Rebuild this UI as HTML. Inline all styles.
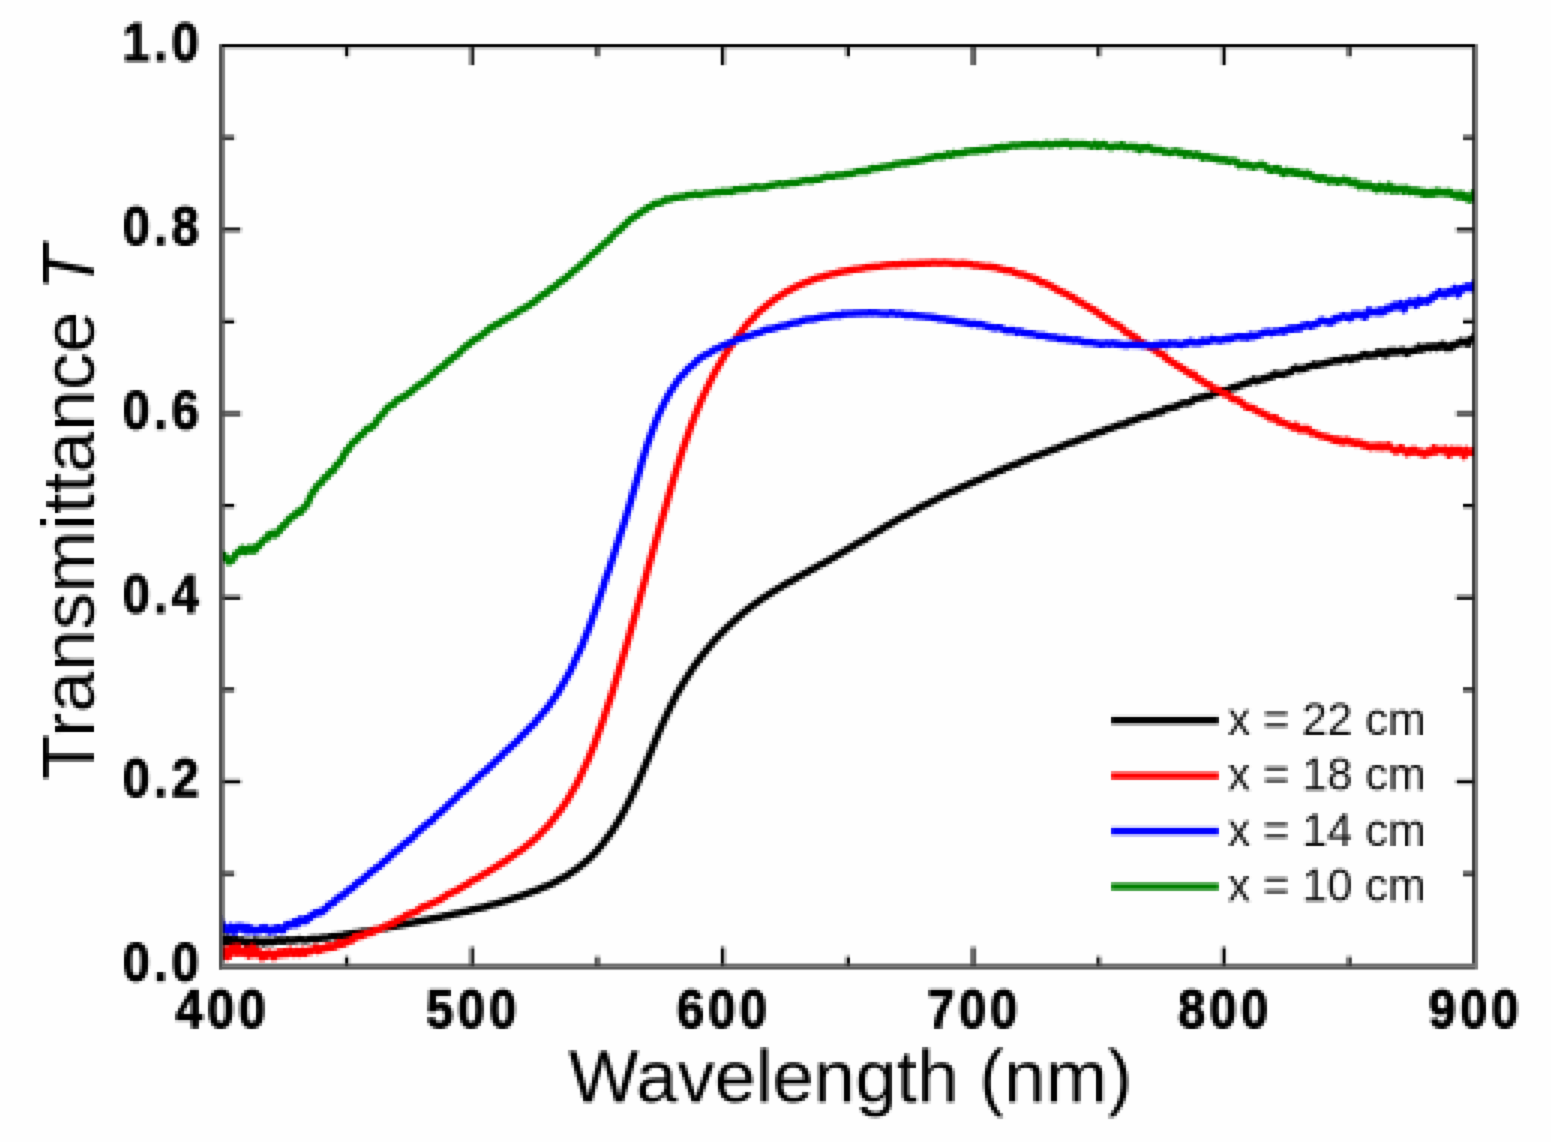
<!DOCTYPE html>
<html lang="en"><head><meta charset="utf-8"><title>Transmittance vs wavelength</title>
<style>
html,body{margin:0;padding:0;background:#fff;}
body{width:1551px;height:1142px;overflow:hidden;}
svg{display:block;}
text{font-family:"Liberation Sans",Arial,Helvetica,sans-serif;fill:#000;}
.tk{font-weight:bold;font-size:55.6px;stroke:#000;stroke-width:1.1px;stroke-linejoin:round;}
.ax{font-size:74.4px;}
.lg{font-size:45.4px;fill:#111;}
</style></head><body>
<svg width="1551" height="1142" viewBox="0 0 1551 1142">
<defs>
<clipPath id="clip"><rect x="222" y="47" width="1253" height="922"/></clipPath>
<filter id="px" filterUnits="userSpaceOnUse" x="0" y="-3" width="1551" height="1148" color-interpolation-filters="sRGB">
<feConvolveMatrix in="SourceGraphic" order="3" kernelMatrix="1 1 1 1 1 1 1 1 1" edgeMode="duplicate" preserveAlpha="true" result="avg"/>
<feFlood x="2" y="-2" width="1" height="1" flood-color="#000" result="dot"/>
<feComposite in="dot" in2="dot" operator="over" x="1" y="-3" width="3" height="3" result="cell"/>
<feTile in="cell" result="grid"/>
<feComposite in="avg" in2="grid" operator="in" result="smp"/>
<feMorphology in="smp" operator="dilate" radius="1"/>
</filter>
<filter id="soft" filterUnits="userSpaceOnUse" x="0" y="0" width="1551" height="1142" color-interpolation-filters="sRGB">
<feConvolveMatrix order="3" kernelMatrix="1 5 1 5 25 5 1 5 1" edgeMode="duplicate" preserveAlpha="true"/>
</filter>
</defs>
<rect x="0" y="0" width="1551" height="1142" fill="#fefefe"/>
<g filter="url(#soft)">
<rect x="-6" y="-6" width="1563" height="1154" fill="#fefefe"/>
<g filter="url(#px)">
<rect x="-6" y="-6" width="1563" height="1154" fill="#fefefe"/>
<g clip-path="url(#clip)" fill="none" stroke-linejoin="round" stroke-linecap="butt" stroke-width="7.2">
<path stroke="#000000" d="M219.0,942.3 L220.0,940.5 L221.0,940.4 L222.0,942.2 L223.0,941.0 L224.0,938.2 L225.0,940.2 L226.0,941.9 L227.0,938.0 L228.0,942.0 L229.0,939.1 L230.0,939.3 L231.0,939.7 L232.0,939.0 L233.0,942.4 L234.0,942.2 L235.0,940.7 L236.0,940.9 L237.0,939.5 L238.0,941.1 L239.0,942.7 L240.0,940.6 L241.0,940.7 L242.0,940.2 L243.0,940.0 L244.0,941.7 L245.0,941.6 L246.0,942.7 L247.0,943.0 L248.0,941.8 L249.0,941.2 L250.0,942.6 L251.0,943.3 L252.0,942.6 L253.0,942.0 L254.0,942.2 L255.0,940.3 L256.0,941.5 L257.0,940.7 L258.0,942.7 L259.0,942.1 L260.0,942.0 L261.0,942.1 L262.0,941.1 L263.0,942.8 L264.0,943.4 L265.0,941.7 L266.0,942.2 L267.0,942.0 L268.0,940.7 L269.0,942.1 L270.0,942.3 L271.0,941.9 L272.0,941.9 L273.0,942.5 L274.0,941.0 L275.0,941.3 L276.0,941.4 L277.0,940.1 L278.0,941.0 L279.0,940.2 L280.0,939.9 L281.0,941.1 L282.0,941.1 L283.0,941.4 L284.0,940.5 L285.0,941.1 L286.0,940.1 L287.0,940.2 L288.0,939.6 L289.0,939.9 L290.0,940.6 L291.0,940.4 L292.0,940.2 L293.0,939.9 L294.0,940.7 L295.0,940.4 L296.0,939.8 L297.0,939.8 L298.0,939.3 L299.0,939.2 L300.0,939.1 L301.0,939.7 L302.0,939.8 L303.0,939.7 L304.0,940.2 L305.0,940.3 L306.0,940.1 L307.0,940.1 L308.0,939.5 L309.0,939.2 L310.0,939.2 L311.0,938.9 L312.0,938.9 L313.0,938.5 L314.0,939.2 L315.0,938.7 L316.0,938.8 L317.0,938.5 L318.0,938.9 L319.0,938.7 L320.0,938.4 L321.0,938.1 L322.0,937.6 L323.0,937.8 L324.0,937.8 L325.0,937.7 L326.0,938.0 L327.0,937.8 L328.0,937.5 L329.0,937.3 L330.0,936.7 L331.0,936.5 L332.0,936.4 L333.0,936.4 L334.0,936.4 L335.0,936.4 L336.0,936.5 L337.0,935.9 L338.0,935.9 L339.0,935.9 L340.0,935.6 L341.0,935.6 L342.0,935.8 L343.0,935.4 L344.0,935.0 L345.0,934.5 L346.0,934.4 L347.0,934.5 L348.0,934.2 L349.0,934.1 L350.0,934.0 L351.0,933.7 L352.0,933.4 L353.0,933.2 L354.0,933.1 L355.0,933.1 L356.0,933.0 L357.0,933.1 L358.0,932.7 L359.0,932.7 L360.0,932.6 L361.0,932.2 L362.0,931.9 L363.0,931.7 L364.0,931.7 L365.0,931.8 L366.0,931.7 L367.0,931.6 L368.0,931.5 L369.0,931.1 L370.0,931.1 L371.0,930.8 L372.0,930.5 L373.0,930.3 L374.0,930.1 L375.0,930.0 L376.0,929.7 L377.0,929.8 L378.0,929.6 L379.0,929.0 L380.0,928.9 L381.0,928.6 L382.0,928.4 L383.0,928.5 L384.0,928.2 L385.0,928.2 L386.0,927.9 L387.0,927.8 L388.0,927.3 L389.0,926.9 L390.0,926.7 L391.0,926.8 L392.0,926.6 L393.0,926.6 L394.0,926.4 L395.0,926.1 L396.0,925.9 L397.0,925.9 L398.0,925.6 L399.0,925.5 L400.0,925.2 L401.0,924.9 L402.0,924.8 L403.0,924.6 L404.0,924.3 L405.0,924.3 L406.0,924.0 L407.0,923.8 L408.0,923.7 L409.0,923.4 L410.0,923.1 L411.0,922.9 L412.0,922.8 L413.0,922.7 L414.0,922.4 L415.0,922.2 L416.0,922.1 L417.0,921.7 L418.0,921.6 L419.0,921.4 L420.0,921.3 L421.0,921.0 L422.0,920.8 L423.0,920.5 L424.0,920.4 L425.0,920.3 L426.0,920.2 L427.0,919.9 L428.0,919.7 L429.0,919.5 L430.0,919.3 L431.0,919.0 L432.0,918.7 L433.0,918.6 L434.0,918.4 L435.0,918.3 L436.0,918.1 L437.0,917.9 L438.0,917.7 L439.0,917.6 L440.0,917.4 L441.0,917.2 L442.0,916.8 L443.0,916.5 L444.0,916.0 L445.0,915.9 L446.0,915.8 L447.0,915.8 L448.0,915.6 L449.0,915.3 L450.0,915.1 L451.0,914.8 L452.0,914.5 L453.0,914.3 L454.0,914.1 L455.0,913.8 L456.0,913.5 L457.0,913.4 L458.0,913.3 L459.0,913.2 L460.0,912.9 L461.0,912.5 L462.0,912.1 L463.0,912.0 L464.0,911.8 L465.0,911.7 L466.0,911.5 L467.0,911.3 L468.0,911.1 L469.0,910.7 L470.0,910.3 L471.0,910.0 L472.0,909.7 L473.0,909.6 L474.0,909.4 L475.0,909.1 L476.0,908.8 L477.0,908.6 L478.0,908.4 L479.0,908.2 L480.0,908.0 L481.0,907.8 L482.0,907.6 L483.0,907.4 L484.0,907.2 L485.0,906.9 L486.0,906.7 L487.0,906.3 L488.0,905.8 L489.0,905.4 L490.0,905.1 L491.0,904.9 L492.0,904.7 L493.0,904.5 L494.0,904.3 L495.0,904.1 L496.0,903.8 L497.0,903.6 L498.0,903.3 L499.0,903.0 L500.0,902.6 L501.0,902.3 L502.0,901.9 L503.0,901.6 L504.0,901.2 L505.0,901.0 L506.0,900.7 L507.0,900.5 L508.0,900.1 L509.0,899.8 L510.0,899.5 L511.0,899.1 L512.0,898.8 L513.0,898.5 L514.0,898.1 L515.0,897.8 L516.0,897.5 L517.0,897.2 L518.0,896.9 L519.0,896.6 L520.0,896.3 L521.0,895.9 L522.0,895.6 L523.0,895.2 L524.0,894.8 L525.0,894.4 L526.0,894.1 L527.0,893.7 L528.0,893.3 L529.0,892.9 L530.0,892.5 L531.0,892.1 L532.0,891.7 L533.0,891.4 L534.0,891.1 L535.0,890.8 L536.0,890.4 L537.0,890.1 L538.0,889.7 L539.0,889.2 L540.0,888.7 L541.0,888.3 L542.0,887.8 L543.0,887.3 L544.0,887.0 L545.0,886.7 L546.0,886.4 L547.0,885.9 L548.0,885.5 L549.0,885.0 L550.0,884.6 L551.0,884.2 L552.0,883.8 L553.0,883.2 L554.0,882.6 L555.0,882.0 L556.0,881.5 L557.0,881.0 L558.0,880.4 L559.0,879.8 L560.0,879.3 L561.0,878.7 L562.0,878.2 L563.0,877.8 L564.0,877.4 L565.0,876.8 L566.0,876.3 L567.0,875.7 L568.0,874.9 L569.0,874.2 L570.0,873.4 L571.0,872.8 L572.0,872.1 L573.0,871.4 L574.0,870.8 L575.0,870.2 L576.0,869.5 L577.0,868.7 L578.0,867.9 L579.0,867.1 L580.0,866.3 L581.0,865.6 L582.0,864.8 L583.0,864.0 L584.0,863.2 L585.0,862.3 L586.0,861.4 L587.0,860.6 L588.0,859.7 L589.0,858.8 L590.0,857.9 L591.0,857.0 L592.0,855.9 L593.0,854.9 L594.0,853.8 L595.0,852.8 L596.0,851.7 L597.0,850.7 L598.0,849.5 L599.0,848.3 L600.0,847.1 L601.0,845.9 L602.0,844.7 L603.0,843.5 L604.0,842.1 L605.0,840.7 L606.0,839.3 L607.0,838.0 L608.0,836.7 L609.0,835.3 L610.0,834.0 L611.0,832.6 L612.0,831.3 L613.0,829.7 L614.0,828.1 L615.0,826.4 L616.0,824.9 L617.0,823.4 L618.0,821.8 L619.0,820.1 L620.0,818.4 L621.0,816.6 L622.0,814.9 L623.0,813.1 L624.0,811.3 L625.0,809.4 L626.0,807.5 L627.0,805.6 L628.0,803.6 L629.0,801.6 L630.0,799.6 L631.0,797.5 L632.0,795.4 L633.0,793.2 L634.0,791.1 L635.0,788.9 L636.0,786.7 L637.0,784.5 L638.0,782.2 L639.0,779.9 L640.0,777.6 L641.0,775.3 L642.0,773.0 L643.0,770.6 L644.0,768.2 L645.0,765.8 L646.0,763.4 L647.0,761.0 L648.0,758.6 L649.0,756.2 L650.0,753.8 L651.0,751.4 L652.0,749.0 L653.0,746.5 L654.0,744.2 L655.0,741.7 L656.0,739.3 L657.0,736.8 L658.0,734.4 L659.0,731.9 L660.0,729.5 L661.0,727.2 L662.0,725.0 L663.0,722.9 L664.0,720.6 L665.0,718.4 L666.0,716.2 L667.0,714.1 L668.0,712.0 L669.0,709.9 L670.0,707.8 L671.0,705.7 L672.0,703.7 L673.0,701.6 L674.0,699.6 L675.0,697.6 L676.0,695.7 L677.0,693.8 L678.0,692.0 L679.0,690.3 L680.0,688.7 L681.0,687.1 L682.0,685.3 L683.0,683.6 L684.0,681.9 L685.0,680.3 L686.0,678.8 L687.0,677.3 L688.0,675.7 L689.0,674.1 L690.0,672.7 L691.0,671.0 L692.0,669.4 L693.0,667.8 L694.0,666.4 L695.0,665.1 L696.0,663.8 L697.0,662.4 L698.0,661.0 L699.0,659.7 L700.0,658.3 L701.0,657.0 L702.0,655.8 L703.0,654.4 L704.0,653.2 L705.0,651.9 L706.0,650.7 L707.0,649.5 L708.0,648.2 L709.0,647.1 L710.0,645.8 L711.0,644.7 L712.0,643.4 L713.0,642.2 L714.0,641.0 L715.0,639.9 L716.0,638.9 L717.0,637.8 L718.0,636.8 L719.0,635.7 L720.0,634.6 L721.0,633.6 L722.0,632.6 L723.0,631.6 L724.0,630.6 L725.0,629.5 L726.0,628.5 L727.0,627.6 L728.0,626.7 L729.0,625.8 L730.0,624.8 L731.0,623.9 L732.0,623.0 L733.0,622.0 L734.0,621.1 L735.0,620.1 L736.0,619.2 L737.0,618.4 L738.0,617.5 L739.0,616.6 L740.0,615.8 L741.0,614.9 L742.0,614.0 L743.0,613.1 L744.0,612.3 L745.0,611.5 L746.0,610.7 L747.0,609.9 L748.0,609.2 L749.0,608.3 L750.0,607.5 L751.0,606.8 L752.0,606.1 L753.0,605.4 L754.0,604.6 L755.0,603.9 L756.0,603.2 L757.0,602.4 L758.0,601.8 L759.0,601.1 L760.0,600.3 L761.0,599.5 L762.0,598.7 L763.0,598.1 L764.0,597.6 L765.0,597.0 L766.0,596.4 L767.0,595.6 L768.0,594.9 L769.0,594.2 L770.0,593.6 L771.0,593.0 L772.0,592.3 L773.0,591.7 L774.0,591.1 L775.0,590.5 L776.0,589.9 L777.0,589.2 L778.0,588.6 L779.0,588.1 L780.0,587.6 L781.0,587.0 L782.0,586.3 L783.0,585.6 L784.0,585.0 L785.0,584.4 L786.0,583.8 L787.0,583.3 L788.0,582.7 L789.0,582.2 L790.0,581.7 L791.0,581.2 L792.0,580.8 L793.0,580.2 L794.0,579.6 L795.0,579.0 L796.0,578.3 L797.0,577.7 L798.0,577.0 L799.0,576.5 L800.0,576.1 L801.0,575.6 L802.0,574.9 L803.0,574.3 L804.0,573.6 L805.0,573.2 L806.0,572.9 L807.0,572.6 L808.0,571.8 L809.0,571.1 L810.0,570.3 L811.0,569.8 L812.0,569.5 L813.0,569.0 L814.0,568.5 L815.0,568.0 L816.0,567.4 L817.0,566.7 L818.0,566.0 L819.0,565.4 L820.0,564.9 L821.0,564.4 L822.0,564.0 L823.0,563.6 L824.0,563.0 L825.0,562.5 L826.0,561.9 L827.0,561.2 L828.0,560.7 L829.0,560.2 L830.0,559.6 L831.0,558.9 L832.0,558.4 L833.0,557.9 L834.0,557.4 L835.0,556.8 L836.0,556.1 L837.0,555.4 L838.0,554.9 L839.0,554.4 L840.0,553.8 L841.0,553.2 L842.0,552.6 L843.0,552.0 L844.0,551.4 L845.0,550.9 L846.0,550.3 L847.0,549.7 L848.0,549.0 L849.0,548.2 L850.0,547.8 L851.0,547.3 L852.0,546.9 L853.0,546.2 L854.0,545.5 L855.0,544.8 L856.0,544.2 L857.0,543.6 L858.0,542.9 L859.0,542.5 L860.0,541.9 L861.0,541.4 L862.0,541.0 L863.0,540.5 L864.0,540.0 L865.0,539.3 L866.0,538.7 L867.0,538.0 L868.0,537.4 L869.0,536.6 L870.0,535.9 L871.0,535.4 L872.0,534.9 L873.0,534.4 L874.0,533.8 L875.0,533.0 L876.0,532.4 L877.0,531.9 L878.0,531.3 L879.0,530.8 L880.0,530.2 L881.0,529.6 L882.0,529.0 L883.0,528.2 L884.0,527.5 L885.0,526.7 L886.0,526.3 L887.0,525.9 L888.0,525.5 L889.0,524.8 L890.0,524.3 L891.0,523.5 L892.0,523.0 L893.0,522.4 L894.0,521.8 L895.0,521.2 L896.0,520.6 L897.0,519.9 L898.0,519.4 L899.0,518.9 L900.0,518.3 L901.0,517.7 L902.0,517.2 L903.0,516.6 L904.0,516.3 L905.0,515.8 L906.0,515.4 L907.0,514.9 L908.0,514.4 L909.0,513.9 L910.0,513.2 L911.0,512.6 L912.0,511.9 L913.0,511.5 L914.0,511.0 L915.0,510.5 L916.0,510.0 L917.0,509.3 L918.0,508.6 L919.0,508.0 L920.0,507.2 L921.0,506.6 L922.0,506.3 L923.0,506.0 L924.0,505.6 L925.0,504.9 L926.0,504.6 L927.0,504.1 L928.0,503.6 L929.0,503.0 L930.0,502.5 L931.0,502.0 L932.0,501.5 L933.0,501.1 L934.0,500.4 L935.0,500.1 L936.0,499.6 L937.0,498.9 L938.0,498.4 L939.0,497.8 L940.0,497.2 L941.0,496.7 L942.0,496.1 L943.0,495.8 L944.0,495.3 L945.0,495.0 L946.0,494.4 L947.0,494.0 L948.0,493.4 L949.0,493.0 L950.0,492.6 L951.0,492.1 L952.0,491.7 L953.0,491.4 L954.0,491.1 L955.0,490.5 L956.0,490.3 L957.0,489.7 L958.0,489.1 L959.0,488.5 L960.0,487.8 L961.0,487.5 L962.0,487.2 L963.0,486.7 L964.0,486.4 L965.0,485.9 L966.0,485.4 L967.0,485.0 L968.0,484.5 L969.0,484.2 L970.0,483.6 L971.0,483.4 L972.0,482.8 L973.0,482.5 L974.0,481.8 L975.0,481.2 L976.0,480.9 L977.0,480.6 L978.0,480.3 L979.0,480.0 L980.0,479.5 L981.0,479.1 L982.0,478.5 L983.0,478.1 L984.0,477.6 L985.0,477.1 L986.0,476.5 L987.0,475.9 L988.0,475.5 L989.0,475.3 L990.0,475.0 L991.0,474.5 L992.0,474.3 L993.0,473.8 L994.0,473.4 L995.0,472.8 L996.0,472.3 L997.0,471.8 L998.0,471.3 L999.0,470.8 L1000.0,470.5 L1001.0,470.6 L1002.0,470.2 L1003.0,469.5 L1004.0,468.8 L1005.0,468.1 L1006.0,467.7 L1007.0,467.7 L1008.0,467.5 L1009.0,466.8 L1010.0,466.5 L1011.0,465.9 L1012.0,465.5 L1013.0,465.1 L1014.0,464.5 L1015.0,464.4 L1016.0,464.1 L1017.0,464.1 L1018.0,463.5 L1019.0,463.0 L1020.0,462.6 L1021.0,461.9 L1022.0,461.3 L1023.0,460.9 L1024.0,460.5 L1025.0,460.3 L1026.0,460.1 L1027.0,459.8 L1028.0,459.2 L1029.0,458.5 L1030.0,458.2 L1031.0,457.8 L1032.0,457.2 L1033.0,456.7 L1034.0,456.5 L1035.0,456.3 L1036.0,456.1 L1037.0,455.7 L1038.0,455.3 L1039.0,455.1 L1040.0,454.7 L1041.0,454.2 L1042.0,453.8 L1043.0,453.5 L1044.0,453.0 L1045.0,452.7 L1046.0,452.3 L1047.0,451.9 L1048.0,451.5 L1049.0,451.0 L1050.0,450.9 L1051.0,450.5 L1052.0,450.1 L1053.0,449.4 L1054.0,449.2 L1055.0,449.2 L1056.0,448.9 L1057.0,448.3 L1058.0,447.9 L1059.0,447.2 L1060.0,447.0 L1061.0,446.5 L1062.0,446.2 L1063.0,445.8 L1064.0,445.5 L1065.0,444.9 L1066.0,444.5 L1067.0,444.1 L1068.0,443.5 L1069.0,443.1 L1070.0,442.9 L1071.0,442.6 L1072.0,442.5 L1073.0,442.2 L1074.0,442.2 L1075.0,441.6 L1076.0,441.0 L1077.0,440.4 L1078.0,440.2 L1079.0,439.6 L1080.0,439.6 L1081.0,439.0 L1082.0,438.7 L1083.0,438.4 L1084.0,438.2 L1085.0,437.4 L1086.0,437.0 L1087.0,436.7 L1088.0,436.5 L1089.0,436.2 L1090.0,435.9 L1091.0,435.1 L1092.0,434.8 L1093.0,434.8 L1094.0,434.2 L1095.0,434.1 L1096.0,433.4 L1097.0,432.6 L1098.0,432.3 L1099.0,432.5 L1100.0,432.2 L1101.0,432.1 L1102.0,431.8 L1103.0,431.2 L1104.0,430.7 L1105.0,430.2 L1106.0,429.5 L1107.0,429.1 L1108.0,428.6 L1109.0,428.9 L1110.0,428.6 L1111.0,428.3 L1112.0,428.0 L1113.0,427.4 L1114.0,427.1 L1115.0,426.7 L1116.0,426.3 L1117.0,426.0 L1118.0,425.5 L1119.0,424.8 L1120.0,425.0 L1121.0,424.7 L1122.0,424.6 L1123.0,424.3 L1124.0,424.1 L1125.0,424.4 L1126.0,423.5 L1127.0,422.6 L1128.0,421.7 L1129.0,421.6 L1130.0,421.5 L1131.0,421.3 L1132.0,420.6 L1133.0,420.7 L1134.0,419.8 L1135.0,419.8 L1136.0,419.5 L1137.0,419.3 L1138.0,418.4 L1139.0,418.2 L1140.0,417.5 L1141.0,417.3 L1142.0,417.1 L1143.0,416.5 L1144.0,416.2 L1145.0,416.5 L1146.0,416.6 L1147.0,416.1 L1148.0,415.4 L1149.0,415.1 L1150.0,415.1 L1151.0,414.6 L1152.0,414.7 L1153.0,414.0 L1154.0,413.7 L1155.0,412.6 L1156.0,412.8 L1157.0,412.3 L1158.0,411.8 L1159.0,412.5 L1160.0,411.9 L1161.0,412.2 L1162.0,411.6 L1163.0,410.4 L1164.0,409.4 L1165.0,409.5 L1166.0,408.9 L1167.0,408.3 L1168.0,408.2 L1169.0,408.1 L1170.0,408.2 L1171.0,407.6 L1172.0,407.5 L1173.0,407.3 L1174.0,407.1 L1175.0,406.9 L1176.0,406.7 L1177.0,405.6 L1178.0,405.8 L1179.0,405.1 L1180.0,404.5 L1181.0,403.9 L1182.0,403.3 L1183.0,403.2 L1184.0,403.3 L1185.0,402.8 L1186.0,402.9 L1187.0,403.0 L1188.0,403.3 L1189.0,402.6 L1190.0,402.1 L1191.0,402.0 L1192.0,400.7 L1193.0,399.9 L1194.0,398.6 L1195.0,398.9 L1196.0,398.9 L1197.0,399.0 L1198.0,398.4 L1199.0,397.8 L1200.0,397.5 L1201.0,397.4 L1202.0,397.7 L1203.0,397.6 L1204.0,396.6 L1205.0,396.6 L1206.0,395.9 L1207.0,396.2 L1208.0,396.0 L1209.0,395.9 L1210.0,396.0 L1211.0,395.3 L1212.0,394.4 L1213.0,393.9 L1214.0,393.9 L1215.0,393.4 L1216.0,393.2 L1217.0,393.0 L1218.0,392.7 L1219.0,391.9 L1220.0,392.0 L1221.0,391.6 L1222.0,390.9 L1223.0,390.3 L1224.0,390.8 L1225.0,390.6 L1226.0,390.9 L1227.0,390.6 L1228.0,389.9 L1229.0,389.7 L1230.0,388.5 L1231.0,388.4 L1232.0,387.7 L1233.0,387.8 L1234.0,387.5 L1235.0,386.8 L1236.0,387.8 L1237.0,386.6 L1238.0,386.6 L1239.0,385.7 L1240.0,385.5 L1241.0,385.3 L1242.0,384.8 L1243.0,384.0 L1244.0,384.2 L1245.0,383.5 L1246.0,383.1 L1247.0,383.1 L1248.0,382.4 L1249.0,382.9 L1250.0,382.0 L1251.0,381.8 L1252.0,381.1 L1253.0,380.1 L1254.0,379.3 L1255.0,380.2 L1256.0,380.7 L1257.0,381.5 L1258.0,380.8 L1259.0,379.9 L1260.0,380.0 L1261.0,379.7 L1262.0,379.3 L1263.0,378.6 L1264.0,378.1 L1265.0,378.9 L1266.0,378.3 L1267.0,378.3 L1268.0,377.1 L1269.0,377.5 L1270.0,376.7 L1271.0,377.0 L1272.0,377.0 L1273.0,375.9 L1274.0,374.1 L1275.0,373.3 L1276.0,373.5 L1277.0,374.3 L1278.0,374.4 L1279.0,374.3 L1280.0,374.2 L1281.0,374.3 L1282.0,374.3 L1283.0,374.7 L1284.0,374.1 L1285.0,374.0 L1286.0,373.0 L1287.0,373.0 L1288.0,372.9 L1289.0,372.4 L1290.0,372.5 L1291.0,371.9 L1292.0,370.4 L1293.0,369.4 L1294.0,368.9 L1295.0,368.6 L1296.0,367.8 L1297.0,368.7 L1298.0,369.1 L1299.0,369.7 L1300.0,369.4 L1301.0,368.7 L1302.0,368.4 L1303.0,369.1 L1304.0,368.4 L1305.0,368.7 L1306.0,367.9 L1307.0,367.1 L1308.0,366.6 L1309.0,366.3 L1310.0,366.5 L1311.0,366.1 L1312.0,365.5 L1313.0,365.4 L1314.0,364.1 L1315.0,365.0 L1316.0,365.0 L1317.0,365.6 L1318.0,364.5 L1319.0,364.3 L1320.0,364.7 L1321.0,364.2 L1322.0,364.3 L1323.0,364.0 L1324.0,364.1 L1325.0,363.0 L1326.0,362.9 L1327.0,363.1 L1328.0,362.9 L1329.0,362.0 L1330.0,362.0 L1331.0,361.9 L1332.0,361.9 L1333.0,361.1 L1334.0,360.7 L1335.0,361.0 L1336.0,360.3 L1337.0,360.7 L1338.0,360.9 L1339.0,360.5 L1340.0,360.8 L1341.0,360.2 L1342.0,359.9 L1343.0,358.9 L1344.0,358.5 L1345.0,358.9 L1346.0,358.6 L1347.0,358.0 L1348.0,359.0 L1349.0,359.6 L1350.0,360.2 L1351.0,360.1 L1352.0,358.3 L1353.0,357.9 L1354.0,358.1 L1355.0,358.0 L1356.0,357.8 L1357.0,358.4 L1358.0,357.8 L1359.0,357.3 L1360.0,356.8 L1361.0,356.3 L1362.0,355.3 L1363.0,355.7 L1364.0,354.3 L1365.0,355.1 L1366.0,354.4 L1367.0,355.2 L1368.0,356.0 L1369.0,355.3 L1370.0,355.1 L1371.0,355.6 L1372.0,355.1 L1373.0,355.1 L1374.0,355.1 L1375.0,355.3 L1376.0,353.9 L1377.0,353.0 L1378.0,352.1 L1379.0,353.3 L1380.0,352.3 L1381.0,353.4 L1382.0,352.5 L1383.0,354.4 L1384.0,352.8 L1385.0,355.1 L1386.0,355.4 L1387.0,352.2 L1388.0,351.4 L1389.0,350.8 L1390.0,351.5 L1391.0,350.7 L1392.0,352.4 L1393.0,351.5 L1394.0,351.0 L1395.0,350.7 L1396.0,352.6 L1397.0,351.8 L1398.0,351.8 L1399.0,351.2 L1400.0,351.4 L1401.0,350.9 L1402.0,350.1 L1403.0,351.9 L1404.0,350.4 L1405.0,351.4 L1406.0,352.3 L1407.0,353.6 L1408.0,351.5 L1409.0,351.3 L1410.0,351.3 L1411.0,350.8 L1412.0,351.0 L1413.0,350.9 L1414.0,350.2 L1415.0,350.3 L1416.0,350.4 L1417.0,349.1 L1418.0,349.6 L1419.0,346.4 L1420.0,347.6 L1421.0,349.8 L1422.0,349.5 L1423.0,348.3 L1424.0,348.5 L1425.0,348.6 L1426.0,346.9 L1427.0,347.5 L1428.0,346.4 L1429.0,346.7 L1430.0,346.9 L1431.0,348.1 L1432.0,346.2 L1433.0,346.5 L1434.0,347.1 L1435.0,346.0 L1436.0,346.1 L1437.0,348.1 L1438.0,347.1 L1439.0,346.5 L1440.0,346.1 L1441.0,344.9 L1442.0,346.9 L1443.0,344.1 L1444.0,345.4 L1445.0,345.5 L1446.0,347.2 L1447.0,348.5 L1448.0,346.8 L1449.0,346.9 L1450.0,346.0 L1451.0,348.0 L1452.0,346.6 L1453.0,344.9 L1454.0,346.1 L1455.0,344.6 L1456.0,344.9 L1457.0,344.0 L1458.0,343.5 L1459.0,343.1 L1460.0,341.8 L1461.0,341.0 L1462.0,343.1 L1463.0,342.0 L1464.0,342.3 L1465.0,342.2 L1466.0,341.4 L1467.0,342.5 L1468.0,344.3 L1469.0,341.6 L1470.0,341.3 L1471.0,339.2 L1472.0,338.9 L1473.0,337.9 L1474.0,338.8 L1475.0,339.6 L1476.0,339.7 L1477.0,338.8 L1478.0,338.3"/>
<path stroke="#ff0000" d="M219.0,951.7 L220.0,952.8 L221.0,951.4 L222.0,950.6 L223.0,949.6 L224.0,955.8 L225.0,951.3 L226.0,956.2 L227.0,957.1 L228.0,954.2 L229.0,956.3 L230.0,948.3 L231.0,949.0 L232.0,951.9 L233.0,947.3 L234.0,947.6 L235.0,947.0 L236.0,953.3 L237.0,947.2 L238.0,946.5 L239.0,952.6 L240.0,951.7 L241.0,953.2 L242.0,952.3 L243.0,951.3 L244.0,953.1 L245.0,951.5 L246.0,949.4 L247.0,951.1 L248.0,951.9 L249.0,955.9 L250.0,953.6 L251.0,951.1 L252.0,947.0 L253.0,947.5 L254.0,952.3 L255.0,954.4 L256.0,954.5 L257.0,951.8 L258.0,950.8 L259.0,953.8 L260.0,953.8 L261.0,956.1 L262.0,957.9 L263.0,953.9 L264.0,955.2 L265.0,956.7 L266.0,955.8 L267.0,956.1 L268.0,953.0 L269.0,953.8 L270.0,952.8 L271.0,954.7 L272.0,954.8 L273.0,954.7 L274.0,957.5 L275.0,955.5 L276.0,954.3 L277.0,953.2 L278.0,953.3 L279.0,952.0 L280.0,954.9 L281.0,953.3 L282.0,952.0 L283.0,951.8 L284.0,951.5 L285.0,952.7 L286.0,954.4 L287.0,953.5 L288.0,952.1 L289.0,952.3 L290.0,949.9 L291.0,953.0 L292.0,951.9 L293.0,953.9 L294.0,952.2 L295.0,951.6 L296.0,952.1 L297.0,950.8 L298.0,953.7 L299.0,953.2 L300.0,953.9 L301.0,952.6 L302.0,950.6 L303.0,950.2 L304.0,951.0 L305.0,953.6 L306.0,952.9 L307.0,952.4 L308.0,950.8 L309.0,950.0 L310.0,950.0 L311.0,951.4 L312.0,950.1 L313.0,950.4 L314.0,948.8 L315.0,948.2 L316.0,947.1 L317.0,949.8 L318.0,951.0 L319.0,949.0 L320.0,950.1 L321.0,949.3 L322.0,948.0 L323.0,949.1 L324.0,947.7 L325.0,947.7 L326.0,948.3 L327.0,947.0 L328.0,945.9 L329.0,947.8 L330.0,945.9 L331.0,947.0 L332.0,947.1 L333.0,947.6 L334.0,946.3 L335.0,945.0 L336.0,946.5 L337.0,944.0 L338.0,943.4 L339.0,942.0 L340.0,943.6 L341.0,944.5 L342.0,944.7 L343.0,944.3 L344.0,943.4 L345.0,942.0 L346.0,941.7 L347.0,942.4 L348.0,941.4 L349.0,941.2 L350.0,940.1 L351.0,940.4 L352.0,940.7 L353.0,939.0 L354.0,938.5 L355.0,936.4 L356.0,937.4 L357.0,936.1 L358.0,936.7 L359.0,936.2 L360.0,935.6 L361.0,935.2 L362.0,936.0 L363.0,935.6 L364.0,934.5 L365.0,934.3 L366.0,933.3 L367.0,933.8 L368.0,933.0 L369.0,932.5 L370.0,932.7 L371.0,932.2 L372.0,932.8 L373.0,931.1 L374.0,930.0 L375.0,929.8 L376.0,929.7 L377.0,929.9 L378.0,929.8 L379.0,929.0 L380.0,929.0 L381.0,928.6 L382.0,927.6 L383.0,927.3 L384.0,927.0 L385.0,926.0 L386.0,925.7 L387.0,925.5 L388.0,925.2 L389.0,924.9 L390.0,923.8 L391.0,924.1 L392.0,924.0 L393.0,924.1 L394.0,922.6 L395.0,921.5 L396.0,920.5 L397.0,920.7 L398.0,920.4 L399.0,919.3 L400.0,919.3 L401.0,919.1 L402.0,918.7 L403.0,917.6 L404.0,917.2 L405.0,916.2 L406.0,915.4 L407.0,915.2 L408.0,914.6 L409.0,913.9 L410.0,913.9 L411.0,914.0 L412.0,912.8 L413.0,913.1 L414.0,912.8 L415.0,912.1 L416.0,911.7 L417.0,911.1 L418.0,910.7 L419.0,909.3 L420.0,908.7 L421.0,907.7 L422.0,907.7 L423.0,907.2 L424.0,906.4 L425.0,906.3 L426.0,906.4 L427.0,905.7 L428.0,905.0 L429.0,904.4 L430.0,904.4 L431.0,904.2 L432.0,903.2 L433.0,903.0 L434.0,902.5 L435.0,902.0 L436.0,901.6 L437.0,901.1 L438.0,900.5 L439.0,900.4 L440.0,899.7 L441.0,898.7 L442.0,898.5 L443.0,897.6 L444.0,897.2 L445.0,896.7 L446.0,895.5 L447.0,894.7 L448.0,894.5 L449.0,893.5 L450.0,893.6 L451.0,893.0 L452.0,892.6 L453.0,892.3 L454.0,891.5 L455.0,891.0 L456.0,890.8 L457.0,890.2 L458.0,889.6 L459.0,889.0 L460.0,888.3 L461.0,888.0 L462.0,887.0 L463.0,886.6 L464.0,886.1 L465.0,885.4 L466.0,884.9 L467.0,884.3 L468.0,884.0 L469.0,883.3 L470.0,882.2 L471.0,881.1 L472.0,880.8 L473.0,880.4 L474.0,879.9 L475.0,879.4 L476.0,879.1 L477.0,878.3 L478.0,877.9 L479.0,877.4 L480.0,876.9 L481.0,876.0 L482.0,875.2 L483.0,874.4 L484.0,874.0 L485.0,873.7 L486.0,873.3 L487.0,872.5 L488.0,872.0 L489.0,871.2 L490.0,870.4 L491.0,869.9 L492.0,869.4 L493.0,868.7 L494.0,868.2 L495.0,867.6 L496.0,866.8 L497.0,866.3 L498.0,865.9 L499.0,865.0 L500.0,864.3 L501.0,863.3 L502.0,863.0 L503.0,862.6 L504.0,862.2 L505.0,861.3 L506.0,860.6 L507.0,859.9 L508.0,859.2 L509.0,858.3 L510.0,857.6 L511.0,857.0 L512.0,856.6 L513.0,855.8 L514.0,855.0 L515.0,854.1 L516.0,853.3 L517.0,852.8 L518.0,852.1 L519.0,851.6 L520.0,851.1 L521.0,850.4 L522.0,849.6 L523.0,848.8 L524.0,848.0 L525.0,847.1 L526.0,846.4 L527.0,845.5 L528.0,844.8 L529.0,844.0 L530.0,843.1 L531.0,842.3 L532.0,841.6 L533.0,840.6 L534.0,839.6 L535.0,839.0 L536.0,838.0 L537.0,837.3 L538.0,836.2 L539.0,835.2 L540.0,834.0 L541.0,832.9 L542.0,832.0 L543.0,831.0 L544.0,829.9 L545.0,828.8 L546.0,827.9 L547.0,826.9 L548.0,825.9 L549.0,824.9 L550.0,823.7 L551.0,822.2 L552.0,820.8 L553.0,819.6 L554.0,818.6 L555.0,817.3 L556.0,816.0 L557.0,814.5 L558.0,812.9 L559.0,811.9 L560.0,810.7 L561.0,809.6 L562.0,808.0 L563.0,806.6 L564.0,805.1 L565.0,803.7 L566.0,802.1 L567.0,800.7 L568.0,799.1 L569.0,797.3 L570.0,795.5 L571.0,793.8 L572.0,792.0 L573.0,790.2 L574.0,788.5 L575.0,787.0 L576.0,785.2 L577.0,783.3 L578.0,781.4 L579.0,779.4 L580.0,777.3 L581.0,775.2 L582.0,772.9 L583.0,770.8 L584.0,768.6 L585.0,766.4 L586.0,764.3 L587.0,762.1 L588.0,759.9 L589.0,757.5 L590.0,755.0 L591.0,752.5 L592.0,750.3 L593.0,747.8 L594.0,745.5 L595.0,742.7 L596.0,739.8 L597.0,737.0 L598.0,734.3 L599.0,731.6 L600.0,728.8 L601.0,726.1 L602.0,723.3 L603.0,720.4 L604.0,717.5 L605.0,714.4 L606.0,711.3 L607.0,708.4 L608.0,705.4 L609.0,702.5 L610.0,699.5 L611.0,696.5 L612.0,693.5 L613.0,690.3 L614.0,686.9 L615.0,683.5 L616.0,680.3 L617.0,676.9 L618.0,673.6 L619.0,670.3 L620.0,666.8 L621.0,663.4 L622.0,660.2 L623.0,656.9 L624.0,653.6 L625.0,650.2 L626.0,646.9 L627.0,643.4 L628.0,639.9 L629.0,636.4 L630.0,632.9 L631.0,629.4 L632.0,625.9 L633.0,622.3 L634.0,618.9 L635.0,615.4 L636.0,611.9 L637.0,608.3 L638.0,604.8 L639.0,601.2 L640.0,597.6 L641.0,594.0 L642.0,590.4 L643.0,586.8 L644.0,583.4 L645.0,579.9 L646.0,576.1 L647.0,572.4 L648.0,568.6 L649.0,565.1 L650.0,561.5 L651.0,558.0 L652.0,554.5 L653.0,550.9 L654.0,547.5 L655.0,543.9 L656.0,540.3 L657.0,536.8 L658.0,533.3 L659.0,529.6 L660.0,526.0 L661.0,522.5 L662.0,519.2 L663.0,515.7 L664.0,512.2 L665.0,508.8 L666.0,505.4 L667.0,501.9 L668.0,498.3 L669.0,494.8 L670.0,491.4 L671.0,488.0 L672.0,484.6 L673.0,481.2 L674.0,477.9 L675.0,474.6 L676.0,471.3 L677.0,468.0 L678.0,464.7 L679.0,461.4 L680.0,458.2 L681.0,454.9 L682.0,452.0 L683.0,448.9 L684.0,446.0 L685.0,443.1 L686.0,440.3 L687.0,437.5 L688.0,434.5 L689.0,431.6 L690.0,428.7 L691.0,426.0 L692.0,423.4 L693.0,420.8 L694.0,418.2 L695.0,415.7 L696.0,413.1 L697.0,410.6 L698.0,408.2 L699.0,405.8 L700.0,403.3 L701.0,401.1 L702.0,398.8 L703.0,396.6 L704.0,394.4 L705.0,392.3 L706.0,390.3 L707.0,388.1 L708.0,386.1 L709.0,384.0 L710.0,382.0 L711.0,379.9 L712.0,377.9 L713.0,375.9 L714.0,373.9 L715.0,372.0 L716.0,370.3 L717.0,368.5 L718.0,366.7 L719.0,365.1 L720.0,363.4 L721.0,361.7 L722.0,360.0 L723.0,358.3 L724.0,356.7 L725.0,355.0 L726.0,353.5 L727.0,351.9 L728.0,350.3 L729.0,348.7 L730.0,347.3 L731.0,345.8 L732.0,344.4 L733.0,342.9 L734.0,341.5 L735.0,340.0 L736.0,338.6 L737.0,337.1 L738.0,335.7 L739.0,334.4 L740.0,333.2 L741.0,332.0 L742.0,330.7 L743.0,329.4 L744.0,328.1 L745.0,326.8 L746.0,325.5 L747.0,324.3 L748.0,323.2 L749.0,322.1 L750.0,321.0 L751.0,320.2 L752.0,319.4 L753.0,318.6 L754.0,317.4 L755.0,316.1 L756.0,314.9 L757.0,313.8 L758.0,312.8 L759.0,311.8 L760.0,311.0 L761.0,310.2 L762.0,309.3 L763.0,308.6 L764.0,307.8 L765.0,307.1 L766.0,306.2 L767.0,305.2 L768.0,304.3 L769.0,303.6 L770.0,302.9 L771.0,302.1 L772.0,301.4 L773.0,300.5 L774.0,299.7 L775.0,299.0 L776.0,298.3 L777.0,297.6 L778.0,297.1 L779.0,296.6 L780.0,296.0 L781.0,295.3 L782.0,294.6 L783.0,294.0 L784.0,293.2 L785.0,292.6 L786.0,292.0 L787.0,291.5 L788.0,291.0 L789.0,290.4 L790.0,290.0 L791.0,289.5 L792.0,288.9 L793.0,288.3 L794.0,287.8 L795.0,287.2 L796.0,286.7 L797.0,286.3 L798.0,285.9 L799.0,285.4 L800.0,284.9 L801.0,284.5 L802.0,284.0 L803.0,283.5 L804.0,283.1 L805.0,282.7 L806.0,282.5 L807.0,282.3 L808.0,281.8 L809.0,281.3 L810.0,280.8 L811.0,280.4 L812.0,280.0 L813.0,279.7 L814.0,279.2 L815.0,278.9 L816.0,278.5 L817.0,278.1 L818.0,277.8 L819.0,277.5 L820.0,277.5 L821.0,277.3 L822.0,277.2 L823.0,276.7 L824.0,276.3 L825.0,275.8 L826.0,275.7 L827.0,275.5 L828.0,275.3 L829.0,275.0 L830.0,274.6 L831.0,274.3 L832.0,274.1 L833.0,274.0 L834.0,273.8 L835.0,273.5 L836.0,273.3 L837.0,273.0 L838.0,272.8 L839.0,272.4 L840.0,272.1 L841.0,271.9 L842.0,271.8 L843.0,271.6 L844.0,271.3 L845.0,271.2 L846.0,271.1 L847.0,270.9 L848.0,270.6 L849.0,270.4 L850.0,270.2 L851.0,270.1 L852.0,269.9 L853.0,269.6 L854.0,269.5 L855.0,269.2 L856.0,269.2 L857.0,269.1 L858.0,269.0 L859.0,268.9 L860.0,268.8 L861.0,268.6 L862.0,268.4 L863.0,268.2 L864.0,268.1 L865.0,267.8 L866.0,267.5 L867.0,267.3 L868.0,267.2 L869.0,267.3 L870.0,267.2 L871.0,267.0 L872.0,266.9 L873.0,266.8 L874.0,266.7 L875.0,266.7 L876.0,266.4 L877.0,266.6 L878.0,266.5 L879.0,266.5 L880.0,266.3 L881.0,265.9 L882.0,265.6 L883.0,265.6 L884.0,265.4 L885.0,265.3 L886.0,265.3 L887.0,265.2 L888.0,264.9 L889.0,264.9 L890.0,265.0 L891.0,264.9 L892.0,264.7 L893.0,264.6 L894.0,264.6 L895.0,264.6 L896.0,264.8 L897.0,264.9 L898.0,264.8 L899.0,264.5 L900.0,264.4 L901.0,264.2 L902.0,264.0 L903.0,263.9 L904.0,264.1 L905.0,264.3 L906.0,264.4 L907.0,264.1 L908.0,263.9 L909.0,263.5 L910.0,263.7 L911.0,263.7 L912.0,263.9 L913.0,263.9 L914.0,263.9 L915.0,263.7 L916.0,263.8 L917.0,263.6 L918.0,263.5 L919.0,263.4 L920.0,263.4 L921.0,263.2 L922.0,263.3 L923.0,263.3 L924.0,263.3 L925.0,263.2 L926.0,263.1 L927.0,263.1 L928.0,263.1 L929.0,263.2 L930.0,263.3 L931.0,263.1 L932.0,262.7 L933.0,262.5 L934.0,262.7 L935.0,262.7 L936.0,262.9 L937.0,262.9 L938.0,263.1 L939.0,263.0 L940.0,263.0 L941.0,263.1 L942.0,262.8 L943.0,262.8 L944.0,262.8 L945.0,262.6 L946.0,262.7 L947.0,263.0 L948.0,263.0 L949.0,263.0 L950.0,263.1 L951.0,263.0 L952.0,263.3 L953.0,263.4 L954.0,263.8 L955.0,263.7 L956.0,263.9 L957.0,263.9 L958.0,263.8 L959.0,263.7 L960.0,263.8 L961.0,263.5 L962.0,263.4 L963.0,263.2 L964.0,263.4 L965.0,263.8 L966.0,264.0 L967.0,263.9 L968.0,264.0 L969.0,264.0 L970.0,264.1 L971.0,264.4 L972.0,264.8 L973.0,265.0 L974.0,265.2 L975.0,265.5 L976.0,265.3 L977.0,265.2 L978.0,265.1 L979.0,265.7 L980.0,265.8 L981.0,266.1 L982.0,266.1 L983.0,266.2 L984.0,266.3 L985.0,266.5 L986.0,266.5 L987.0,266.6 L988.0,266.6 L989.0,266.5 L990.0,266.4 L991.0,266.8 L992.0,266.9 L993.0,267.4 L994.0,267.4 L995.0,267.4 L996.0,267.3 L997.0,267.8 L998.0,268.3 L999.0,268.7 L1000.0,268.8 L1001.0,269.0 L1002.0,269.1 L1003.0,269.4 L1004.0,269.9 L1005.0,270.4 L1006.0,270.4 L1007.0,270.4 L1008.0,270.5 L1009.0,270.7 L1010.0,270.6 L1011.0,270.6 L1012.0,271.2 L1013.0,271.6 L1014.0,272.4 L1015.0,272.5 L1016.0,272.9 L1017.0,273.0 L1018.0,273.8 L1019.0,274.1 L1020.0,274.4 L1021.0,274.3 L1022.0,274.4 L1023.0,274.3 L1024.0,274.9 L1025.0,275.1 L1026.0,275.6 L1027.0,276.0 L1028.0,276.6 L1029.0,276.9 L1030.0,277.2 L1031.0,277.5 L1032.0,277.6 L1033.0,278.0 L1034.0,278.4 L1035.0,278.8 L1036.0,279.2 L1037.0,279.5 L1038.0,280.2 L1039.0,280.8 L1040.0,281.4 L1041.0,282.6 L1042.0,282.5 L1043.0,282.6 L1044.0,282.6 L1045.0,283.1 L1046.0,283.8 L1047.0,284.0 L1048.0,284.7 L1049.0,285.0 L1050.0,285.7 L1051.0,286.1 L1052.0,286.6 L1053.0,287.1 L1054.0,287.8 L1055.0,288.4 L1056.0,289.0 L1057.0,289.7 L1058.0,290.2 L1059.0,290.6 L1060.0,291.1 L1061.0,291.5 L1062.0,292.2 L1063.0,292.6 L1064.0,292.8 L1065.0,293.4 L1066.0,293.9 L1067.0,294.3 L1068.0,295.3 L1069.0,295.7 L1070.0,296.0 L1071.0,296.6 L1072.0,296.8 L1073.0,297.4 L1074.0,298.0 L1075.0,298.8 L1076.0,299.9 L1077.0,300.8 L1078.0,301.3 L1079.0,301.6 L1080.0,301.6 L1081.0,302.4 L1082.0,303.3 L1083.0,304.3 L1084.0,304.5 L1085.0,304.9 L1086.0,305.4 L1087.0,306.2 L1088.0,306.5 L1089.0,307.3 L1090.0,308.1 L1091.0,308.6 L1092.0,309.1 L1093.0,309.8 L1094.0,309.9 L1095.0,310.8 L1096.0,311.4 L1097.0,312.1 L1098.0,313.0 L1099.0,313.7 L1100.0,314.4 L1101.0,314.9 L1102.0,315.8 L1103.0,316.3 L1104.0,317.5 L1105.0,317.7 L1106.0,318.3 L1107.0,318.9 L1108.0,319.9 L1109.0,320.5 L1110.0,321.5 L1111.0,321.7 L1112.0,322.4 L1113.0,322.9 L1114.0,323.5 L1115.0,324.3 L1116.0,324.9 L1117.0,325.3 L1118.0,325.2 L1119.0,325.9 L1120.0,326.5 L1121.0,327.4 L1122.0,328.2 L1123.0,329.3 L1124.0,330.5 L1125.0,331.7 L1126.0,332.2 L1127.0,332.1 L1128.0,332.6 L1129.0,333.6 L1130.0,334.3 L1131.0,335.1 L1132.0,335.3 L1133.0,336.0 L1134.0,336.7 L1135.0,337.2 L1136.0,337.7 L1137.0,338.2 L1138.0,339.4 L1139.0,340.9 L1140.0,341.8 L1141.0,342.3 L1142.0,342.8 L1143.0,342.7 L1144.0,343.8 L1145.0,344.7 L1146.0,345.7 L1147.0,345.9 L1148.0,346.4 L1149.0,346.8 L1150.0,347.5 L1151.0,347.9 L1152.0,348.5 L1153.0,348.9 L1154.0,349.1 L1155.0,349.3 L1156.0,350.5 L1157.0,351.5 L1158.0,352.8 L1159.0,353.3 L1160.0,353.4 L1161.0,353.4 L1162.0,354.5 L1163.0,354.9 L1164.0,355.2 L1165.0,356.6 L1166.0,358.4 L1167.0,358.9 L1168.0,359.5 L1169.0,360.3 L1170.0,360.5 L1171.0,361.5 L1172.0,362.4 L1173.0,362.9 L1174.0,363.4 L1175.0,363.8 L1176.0,364.4 L1177.0,365.5 L1178.0,365.8 L1179.0,366.6 L1180.0,366.8 L1181.0,367.8 L1182.0,368.6 L1183.0,369.1 L1184.0,369.2 L1185.0,370.2 L1186.0,371.2 L1187.0,371.6 L1188.0,371.9 L1189.0,373.1 L1190.0,373.2 L1191.0,374.5 L1192.0,374.5 L1193.0,374.3 L1194.0,374.2 L1195.0,375.3 L1196.0,376.9 L1197.0,378.7 L1198.0,378.8 L1199.0,379.0 L1200.0,379.4 L1201.0,379.9 L1202.0,381.1 L1203.0,381.4 L1204.0,382.4 L1205.0,383.1 L1206.0,383.9 L1207.0,384.0 L1208.0,384.4 L1209.0,384.3 L1210.0,385.6 L1211.0,386.2 L1212.0,387.5 L1213.0,387.9 L1214.0,388.7 L1215.0,389.1 L1216.0,389.1 L1217.0,389.6 L1218.0,389.4 L1219.0,390.4 L1220.0,391.1 L1221.0,391.5 L1222.0,392.3 L1223.0,393.3 L1224.0,394.1 L1225.0,394.2 L1226.0,393.6 L1227.0,393.7 L1228.0,395.0 L1229.0,396.0 L1230.0,396.2 L1231.0,398.0 L1232.0,398.4 L1233.0,398.4 L1234.0,399.5 L1235.0,399.4 L1236.0,399.9 L1237.0,399.9 L1238.0,400.2 L1239.0,400.6 L1240.0,401.6 L1241.0,402.0 L1242.0,403.1 L1243.0,403.9 L1244.0,404.9 L1245.0,405.8 L1246.0,406.3 L1247.0,407.5 L1248.0,406.9 L1249.0,407.2 L1250.0,407.7 L1251.0,407.7 L1252.0,407.9 L1253.0,408.7 L1254.0,408.5 L1255.0,409.5 L1256.0,410.5 L1257.0,411.1 L1258.0,411.3 L1259.0,411.9 L1260.0,412.4 L1261.0,412.9 L1262.0,412.6 L1263.0,413.7 L1264.0,414.0 L1265.0,415.0 L1266.0,415.2 L1267.0,415.9 L1268.0,415.6 L1269.0,416.8 L1270.0,418.2 L1271.0,418.2 L1272.0,418.4 L1273.0,418.4 L1274.0,417.8 L1275.0,417.4 L1276.0,418.3 L1277.0,420.1 L1278.0,421.7 L1279.0,421.4 L1280.0,421.7 L1281.0,421.4 L1282.0,422.6 L1283.0,422.9 L1284.0,423.3 L1285.0,423.7 L1286.0,423.8 L1287.0,424.2 L1288.0,424.9 L1289.0,424.9 L1290.0,425.4 L1291.0,426.5 L1292.0,426.6 L1293.0,427.6 L1294.0,426.9 L1295.0,426.1 L1296.0,425.2 L1297.0,427.6 L1298.0,428.8 L1299.0,429.8 L1300.0,429.2 L1301.0,429.5 L1302.0,429.9 L1303.0,428.6 L1304.0,430.0 L1305.0,428.8 L1306.0,429.0 L1307.0,429.5 L1308.0,428.8 L1309.0,430.5 L1310.0,431.6 L1311.0,433.0 L1312.0,432.1 L1313.0,432.8 L1314.0,432.9 L1315.0,433.4 L1316.0,434.0 L1317.0,434.8 L1318.0,434.4 L1319.0,435.0 L1320.0,435.5 L1321.0,436.2 L1322.0,436.1 L1323.0,436.4 L1324.0,436.2 L1325.0,436.9 L1326.0,437.0 L1327.0,437.4 L1328.0,437.2 L1329.0,437.6 L1330.0,438.5 L1331.0,438.5 L1332.0,438.9 L1333.0,439.7 L1334.0,440.3 L1335.0,440.4 L1336.0,439.1 L1337.0,440.9 L1338.0,439.8 L1339.0,439.7 L1340.0,440.7 L1341.0,441.8 L1342.0,440.5 L1343.0,442.4 L1344.0,442.0 L1345.0,441.6 L1346.0,440.0 L1347.0,439.9 L1348.0,440.2 L1349.0,442.0 L1350.0,441.6 L1351.0,442.4 L1352.0,442.1 L1353.0,441.8 L1354.0,443.3 L1355.0,443.6 L1356.0,443.8 L1357.0,442.4 L1358.0,442.5 L1359.0,442.5 L1360.0,442.9 L1361.0,443.4 L1362.0,445.0 L1363.0,444.1 L1364.0,445.4 L1365.0,445.1 L1366.0,446.3 L1367.0,445.5 L1368.0,445.1 L1369.0,446.9 L1370.0,447.1 L1371.0,447.6 L1372.0,447.0 L1373.0,446.0 L1374.0,445.9 L1375.0,446.0 L1376.0,447.1 L1377.0,445.8 L1378.0,447.2 L1379.0,446.7 L1380.0,445.6 L1381.0,447.6 L1382.0,445.8 L1383.0,447.5 L1384.0,446.0 L1385.0,447.3 L1386.0,446.9 L1387.0,446.5 L1388.0,445.0 L1389.0,445.3 L1390.0,447.7 L1391.0,448.4 L1392.0,449.0 L1393.0,449.4 L1394.0,449.4 L1395.0,451.3 L1396.0,450.4 L1397.0,451.3 L1398.0,449.8 L1399.0,448.8 L1400.0,449.9 L1401.0,447.4 L1402.0,448.4 L1403.0,449.3 L1404.0,450.1 L1405.0,451.0 L1406.0,452.0 L1407.0,453.8 L1408.0,452.0 L1409.0,451.6 L1410.0,450.1 L1411.0,450.5 L1412.0,452.1 L1413.0,450.8 L1414.0,449.3 L1415.0,450.6 L1416.0,450.5 L1417.0,452.4 L1418.0,451.4 L1419.0,451.4 L1420.0,452.4 L1421.0,453.8 L1422.0,452.1 L1423.0,454.1 L1424.0,454.2 L1425.0,455.0 L1426.0,453.0 L1427.0,452.9 L1428.0,451.3 L1429.0,452.0 L1430.0,451.4 L1431.0,452.9 L1432.0,450.7 L1433.0,450.1 L1434.0,447.8 L1435.0,449.0 L1436.0,451.9 L1437.0,450.4 L1438.0,449.2 L1439.0,450.4 L1440.0,450.1 L1441.0,450.1 L1442.0,450.4 L1443.0,450.5 L1444.0,451.2 L1445.0,448.8 L1446.0,449.4 L1447.0,451.4 L1448.0,451.4 L1449.0,455.4 L1450.0,452.4 L1451.0,450.9 L1452.0,449.2 L1453.0,451.1 L1454.0,449.7 L1455.0,452.5 L1456.0,452.9 L1457.0,450.4 L1458.0,450.0 L1459.0,449.3 L1460.0,451.8 L1461.0,451.3 L1462.0,452.4 L1463.0,453.7 L1464.0,456.3 L1465.0,452.3 L1466.0,449.5 L1467.0,449.9 L1468.0,451.2 L1469.0,451.9 L1470.0,452.2 L1471.0,453.0 L1472.0,452.2 L1473.0,451.9 L1474.0,450.8 L1475.0,449.9 L1476.0,453.2 L1477.0,450.8 L1478.0,453.0"/>
<path stroke="#0000ff" d="M219.0,916.1 L220.0,920.6 L221.0,926.5 L222.0,929.3 L223.0,925.6 L224.0,926.2 L225.0,929.5 L226.0,929.7 L227.0,930.0 L228.0,929.5 L229.0,930.6 L230.0,928.8 L231.0,926.3 L232.0,926.8 L233.0,930.9 L234.0,931.9 L235.0,931.9 L236.0,927.6 L237.0,929.5 L238.0,926.1 L239.0,928.6 L240.0,927.1 L241.0,926.2 L242.0,926.6 L243.0,928.9 L244.0,928.8 L245.0,930.7 L246.0,928.3 L247.0,926.8 L248.0,928.6 L249.0,931.2 L250.0,931.0 L251.0,928.1 L252.0,928.8 L253.0,930.5 L254.0,929.9 L255.0,931.3 L256.0,931.3 L257.0,930.3 L258.0,930.9 L259.0,930.4 L260.0,930.6 L261.0,928.0 L262.0,929.7 L263.0,928.4 L264.0,928.6 L265.0,927.3 L266.0,930.1 L267.0,928.3 L268.0,930.2 L269.0,931.3 L270.0,931.8 L271.0,930.9 L272.0,929.9 L273.0,928.9 L274.0,929.6 L275.0,931.1 L276.0,928.0 L277.0,928.8 L278.0,929.3 L279.0,927.5 L280.0,928.2 L281.0,930.2 L282.0,929.4 L283.0,930.4 L284.0,928.2 L285.0,927.9 L286.0,925.9 L287.0,924.2 L288.0,924.8 L289.0,925.4 L290.0,925.3 L291.0,924.6 L292.0,924.9 L293.0,923.1 L294.0,921.8 L295.0,921.7 L296.0,924.2 L297.0,924.6 L298.0,922.3 L299.0,920.6 L300.0,919.4 L301.0,920.9 L302.0,921.4 L303.0,920.3 L304.0,919.8 L305.0,918.7 L306.0,921.3 L307.0,918.4 L308.0,919.0 L309.0,918.1 L310.0,918.0 L311.0,915.9 L312.0,914.7 L313.0,915.3 L314.0,914.8 L315.0,914.6 L316.0,912.5 L317.0,912.9 L318.0,912.6 L319.0,911.8 L320.0,912.4 L321.0,912.8 L322.0,911.6 L323.0,910.1 L324.0,910.4 L325.0,909.7 L326.0,908.5 L327.0,907.6 L328.0,905.3 L329.0,905.4 L330.0,904.5 L331.0,903.8 L332.0,903.7 L333.0,903.1 L334.0,902.7 L335.0,900.7 L336.0,899.0 L337.0,899.0 L338.0,898.4 L339.0,898.1 L340.0,896.5 L341.0,895.8 L342.0,895.4 L343.0,895.6 L344.0,894.5 L345.0,893.3 L346.0,893.0 L347.0,891.6 L348.0,890.3 L349.0,890.0 L350.0,889.3 L351.0,888.9 L352.0,888.4 L353.0,887.4 L354.0,886.4 L355.0,885.0 L356.0,884.2 L357.0,883.1 L358.0,883.0 L359.0,881.7 L360.0,881.2 L361.0,881.3 L362.0,880.3 L363.0,879.4 L364.0,878.4 L365.0,877.3 L366.0,876.2 L367.0,875.7 L368.0,874.9 L369.0,874.0 L370.0,873.0 L371.0,871.6 L372.0,871.1 L373.0,870.9 L374.0,870.1 L375.0,869.2 L376.0,868.4 L377.0,867.4 L378.0,866.8 L379.0,866.5 L380.0,865.6 L381.0,864.7 L382.0,863.6 L383.0,862.4 L384.0,861.3 L385.0,861.0 L386.0,860.2 L387.0,859.9 L388.0,858.6 L389.0,857.2 L390.0,856.3 L391.0,855.9 L392.0,854.3 L393.0,854.0 L394.0,853.0 L395.0,851.9 L396.0,850.9 L397.0,850.4 L398.0,849.8 L399.0,849.3 L400.0,848.2 L401.0,847.1 L402.0,845.8 L403.0,845.2 L404.0,844.2 L405.0,843.2 L406.0,842.9 L407.0,842.0 L408.0,841.2 L409.0,840.6 L410.0,839.4 L411.0,839.0 L412.0,838.1 L413.0,837.0 L414.0,836.2 L415.0,835.2 L416.0,833.8 L417.0,832.5 L418.0,831.7 L419.0,830.8 L420.0,830.2 L421.0,829.3 L422.0,828.4 L423.0,827.5 L424.0,826.5 L425.0,826.0 L426.0,824.6 L427.0,824.1 L428.0,823.4 L429.0,822.4 L430.0,821.7 L431.0,821.2 L432.0,820.9 L433.0,819.5 L434.0,818.2 L435.0,817.2 L436.0,816.1 L437.0,814.9 L438.0,814.3 L439.0,813.6 L440.0,812.9 L441.0,812.0 L442.0,810.8 L443.0,810.2 L444.0,809.0 L445.0,808.2 L446.0,807.4 L447.0,806.4 L448.0,805.3 L449.0,804.2 L450.0,803.2 L451.0,802.5 L452.0,801.6 L453.0,800.8 L454.0,799.7 L455.0,798.9 L456.0,798.2 L457.0,796.9 L458.0,795.7 L459.0,794.5 L460.0,793.8 L461.0,793.0 L462.0,791.8 L463.0,791.4 L464.0,790.5 L465.0,790.0 L466.0,788.9 L467.0,788.2 L468.0,787.2 L469.0,786.1 L470.0,785.1 L471.0,784.0 L472.0,783.0 L473.0,781.9 L474.0,781.0 L475.0,780.1 L476.0,779.3 L477.0,778.6 L478.0,777.5 L479.0,776.4 L480.0,775.4 L481.0,774.4 L482.0,773.7 L483.0,772.7 L484.0,772.0 L485.0,771.4 L486.0,770.6 L487.0,769.6 L488.0,768.4 L489.0,767.4 L490.0,766.5 L491.0,765.8 L492.0,765.0 L493.0,763.7 L494.0,762.7 L495.0,761.7 L496.0,760.7 L497.0,759.9 L498.0,759.0 L499.0,758.1 L500.0,757.3 L501.0,756.5 L502.0,755.3 L503.0,754.0 L504.0,752.8 L505.0,752.1 L506.0,751.2 L507.0,750.4 L508.0,749.4 L509.0,748.6 L510.0,747.6 L511.0,746.7 L512.0,745.8 L513.0,744.8 L514.0,744.0 L515.0,743.1 L516.0,742.2 L517.0,741.2 L518.0,740.2 L519.0,739.0 L520.0,738.0 L521.0,736.7 L522.0,735.5 L523.0,734.6 L524.0,733.7 L525.0,732.9 L526.0,731.7 L527.0,730.8 L528.0,729.6 L529.0,728.5 L530.0,727.5 L531.0,726.3 L532.0,725.5 L533.0,724.7 L534.0,724.0 L535.0,722.6 L536.0,721.1 L537.0,719.8 L538.0,718.7 L539.0,717.6 L540.0,716.7 L541.0,715.4 L542.0,714.0 L543.0,712.8 L544.0,711.6 L545.0,710.6 L546.0,709.6 L547.0,708.2 L548.0,706.9 L549.0,705.5 L550.0,704.1 L551.0,702.7 L552.0,701.3 L553.0,699.8 L554.0,698.4 L555.0,697.0 L556.0,695.6 L557.0,694.2 L558.0,692.7 L559.0,690.9 L560.0,689.2 L561.0,687.2 L562.0,685.6 L563.0,684.0 L564.0,682.3 L565.0,680.5 L566.0,678.5 L567.0,676.8 L568.0,675.1 L569.0,673.3 L570.0,671.7 L571.0,669.5 L572.0,667.3 L573.0,665.1 L574.0,663.1 L575.0,660.7 L576.0,658.6 L577.0,656.5 L578.0,654.3 L579.0,652.2 L580.0,650.1 L581.0,648.0 L582.0,645.8 L583.0,643.2 L584.0,640.6 L585.0,637.8 L586.0,635.3 L587.0,632.9 L588.0,630.3 L589.0,627.7 L590.0,625.1 L591.0,622.3 L592.0,619.5 L593.0,616.6 L594.0,613.7 L595.0,610.9 L596.0,608.0 L597.0,605.0 L598.0,602.1 L599.0,599.2 L600.0,596.2 L601.0,593.4 L602.0,590.3 L603.0,587.3 L604.0,584.1 L605.0,580.9 L606.0,577.8 L607.0,575.1 L608.0,572.3 L609.0,569.7 L610.0,566.5 L611.0,563.5 L612.0,560.4 L613.0,557.3 L614.0,554.1 L615.0,551.1 L616.0,547.9 L617.0,544.9 L618.0,541.7 L619.0,538.6 L620.0,535.4 L621.0,532.4 L622.0,529.2 L623.0,526.4 L624.0,523.3 L625.0,520.1 L626.0,516.7 L627.0,513.4 L628.0,510.2 L629.0,506.9 L630.0,503.7 L631.0,500.1 L632.0,496.6 L633.0,493.0 L634.0,489.7 L635.0,486.3 L636.0,483.0 L637.0,479.5 L638.0,476.2 L639.0,472.8 L640.0,469.1 L641.0,465.5 L642.0,461.8 L643.0,458.6 L644.0,455.4 L645.0,452.2 L646.0,449.0 L647.0,445.8 L648.0,442.8 L649.0,439.8 L650.0,437.1 L651.0,434.3 L652.0,431.6 L653.0,428.9 L654.0,426.3 L655.0,423.7 L656.0,421.1 L657.0,418.7 L658.0,416.3 L659.0,413.9 L660.0,411.7 L661.0,409.6 L662.0,407.6 L663.0,405.5 L664.0,403.5 L665.0,401.5 L666.0,399.6 L667.0,397.7 L668.0,395.8 L669.0,393.9 L670.0,392.3 L671.0,390.8 L672.0,389.3 L673.0,387.7 L674.0,386.2 L675.0,384.7 L676.0,383.2 L677.0,381.8 L678.0,380.2 L679.0,378.9 L680.0,377.6 L681.0,376.5 L682.0,375.5 L683.0,374.6 L684.0,373.8 L685.0,372.4 L686.0,371.1 L687.0,370.1 L688.0,368.9 L689.0,368.0 L690.0,367.1 L691.0,366.3 L692.0,365.5 L693.0,364.9 L694.0,363.9 L695.0,362.7 L696.0,361.7 L697.0,360.8 L698.0,359.9 L699.0,359.0 L700.0,358.3 L701.0,357.6 L702.0,356.9 L703.0,356.3 L704.0,355.7 L705.0,355.0 L706.0,354.6 L707.0,354.2 L708.0,353.7 L709.0,353.2 L710.0,352.6 L711.0,352.1 L712.0,351.3 L713.0,350.5 L714.0,349.6 L715.0,349.4 L716.0,349.1 L717.0,349.0 L718.0,348.3 L719.0,347.6 L720.0,346.9 L721.0,346.6 L722.0,346.2 L723.0,345.8 L724.0,345.3 L725.0,344.9 L726.0,344.5 L727.0,344.0 L728.0,343.7 L729.0,343.1 L730.0,342.8 L731.0,342.4 L732.0,342.0 L733.0,341.5 L734.0,341.2 L735.0,340.7 L736.0,340.1 L737.0,339.7 L738.0,339.1 L739.0,339.0 L740.0,338.7 L741.0,338.3 L742.0,338.3 L743.0,337.8 L744.0,337.7 L745.0,337.1 L746.0,336.8 L747.0,336.5 L748.0,336.3 L749.0,335.9 L750.0,335.8 L751.0,335.4 L752.0,335.0 L753.0,334.4 L754.0,334.1 L755.0,333.8 L756.0,333.5 L757.0,333.2 L758.0,333.0 L759.0,332.8 L760.0,332.5 L761.0,331.9 L762.0,331.5 L763.0,330.9 L764.0,330.7 L765.0,330.2 L766.0,329.6 L767.0,329.4 L768.0,329.1 L769.0,329.1 L770.0,329.2 L771.0,329.3 L772.0,328.8 L773.0,328.5 L774.0,328.2 L775.0,328.0 L776.0,327.7 L777.0,327.6 L778.0,327.1 L779.0,326.7 L780.0,326.4 L781.0,326.2 L782.0,326.0 L783.0,325.9 L784.0,325.7 L785.0,325.6 L786.0,325.6 L787.0,325.3 L788.0,324.7 L789.0,324.3 L790.0,323.9 L791.0,323.6 L792.0,323.1 L793.0,323.1 L794.0,322.8 L795.0,322.8 L796.0,322.6 L797.0,322.6 L798.0,322.6 L799.0,322.2 L800.0,321.7 L801.0,321.1 L802.0,320.9 L803.0,320.6 L804.0,320.3 L805.0,319.9 L806.0,319.7 L807.0,319.6 L808.0,319.4 L809.0,319.4 L810.0,319.2 L811.0,319.3 L812.0,319.2 L813.0,319.3 L814.0,319.1 L815.0,318.7 L816.0,318.4 L817.0,318.3 L818.0,317.9 L819.0,317.7 L820.0,317.4 L821.0,317.3 L822.0,316.9 L823.0,316.9 L824.0,316.9 L825.0,316.8 L826.0,316.5 L827.0,316.6 L828.0,316.3 L829.0,316.2 L830.0,315.9 L831.0,315.8 L832.0,315.6 L833.0,315.5 L834.0,315.5 L835.0,315.3 L836.0,315.1 L837.0,314.9 L838.0,315.0 L839.0,315.3 L840.0,315.5 L841.0,314.9 L842.0,314.2 L843.0,313.6 L844.0,313.8 L845.0,313.9 L846.0,314.2 L847.0,313.9 L848.0,313.7 L849.0,313.5 L850.0,313.5 L851.0,313.6 L852.0,313.8 L853.0,313.8 L854.0,313.4 L855.0,313.4 L856.0,313.2 L857.0,313.4 L858.0,313.4 L859.0,313.5 L860.0,313.2 L861.0,313.3 L862.0,313.2 L863.0,313.2 L864.0,313.0 L865.0,313.2 L866.0,313.2 L867.0,313.3 L868.0,313.1 L869.0,312.9 L870.0,312.5 L871.0,312.7 L872.0,312.9 L873.0,313.4 L874.0,312.9 L875.0,312.8 L876.0,312.8 L877.0,313.0 L878.0,313.1 L879.0,313.2 L880.0,313.4 L881.0,313.5 L882.0,313.6 L883.0,313.5 L884.0,313.6 L885.0,313.5 L886.0,313.8 L887.0,314.0 L888.0,314.0 L889.0,313.5 L890.0,313.0 L891.0,312.7 L892.0,312.9 L893.0,313.0 L894.0,313.3 L895.0,313.7 L896.0,313.9 L897.0,314.2 L898.0,314.0 L899.0,313.7 L900.0,313.6 L901.0,313.8 L902.0,314.0 L903.0,314.4 L904.0,314.5 L905.0,314.9 L906.0,315.2 L907.0,315.3 L908.0,315.0 L909.0,315.2 L910.0,315.2 L911.0,314.8 L912.0,314.8 L913.0,315.0 L914.0,315.2 L915.0,315.7 L916.0,315.8 L917.0,315.7 L918.0,316.0 L919.0,316.2 L920.0,316.1 L921.0,316.1 L922.0,316.2 L923.0,316.3 L924.0,316.5 L925.0,316.5 L926.0,316.6 L927.0,317.0 L928.0,317.0 L929.0,316.8 L930.0,316.8 L931.0,316.9 L932.0,317.2 L933.0,317.6 L934.0,317.7 L935.0,317.5 L936.0,317.7 L937.0,318.1 L938.0,318.3 L939.0,318.9 L940.0,318.9 L941.0,318.8 L942.0,319.0 L943.0,319.0 L944.0,319.1 L945.0,319.1 L946.0,319.3 L947.0,319.8 L948.0,320.2 L949.0,320.3 L950.0,320.1 L951.0,320.3 L952.0,320.4 L953.0,320.4 L954.0,320.9 L955.0,320.9 L956.0,321.2 L957.0,321.4 L958.0,321.6 L959.0,321.7 L960.0,321.7 L961.0,321.9 L962.0,321.8 L963.0,322.3 L964.0,322.6 L965.0,322.4 L966.0,322.7 L967.0,323.0 L968.0,323.2 L969.0,323.1 L970.0,323.4 L971.0,324.2 L972.0,324.1 L973.0,323.6 L974.0,323.7 L975.0,323.4 L976.0,323.9 L977.0,324.4 L978.0,324.9 L979.0,324.4 L980.0,324.3 L981.0,324.1 L982.0,325.0 L983.0,325.1 L984.0,325.3 L985.0,325.5 L986.0,326.1 L987.0,326.3 L988.0,326.6 L989.0,326.6 L990.0,326.7 L991.0,327.2 L992.0,327.4 L993.0,327.9 L994.0,327.8 L995.0,327.9 L996.0,328.1 L997.0,327.8 L998.0,327.6 L999.0,327.5 L1000.0,327.6 L1001.0,328.0 L1002.0,328.4 L1003.0,329.1 L1004.0,329.6 L1005.0,330.2 L1006.0,330.4 L1007.0,330.5 L1008.0,330.8 L1009.0,330.6 L1010.0,330.3 L1011.0,330.6 L1012.0,330.1 L1013.0,330.3 L1014.0,330.5 L1015.0,331.2 L1016.0,331.7 L1017.0,332.7 L1018.0,332.1 L1019.0,331.4 L1020.0,331.0 L1021.0,331.5 L1022.0,332.1 L1023.0,332.8 L1024.0,332.6 L1025.0,333.1 L1026.0,333.4 L1027.0,333.3 L1028.0,333.3 L1029.0,333.7 L1030.0,333.9 L1031.0,333.5 L1032.0,333.6 L1033.0,334.2 L1034.0,334.0 L1035.0,334.4 L1036.0,334.7 L1037.0,335.2 L1038.0,335.7 L1039.0,335.4 L1040.0,335.5 L1041.0,335.4 L1042.0,335.6 L1043.0,335.5 L1044.0,335.4 L1045.0,336.0 L1046.0,336.1 L1047.0,336.7 L1048.0,336.6 L1049.0,337.2 L1050.0,336.9 L1051.0,337.4 L1052.0,337.1 L1053.0,337.4 L1054.0,337.2 L1055.0,337.3 L1056.0,337.3 L1057.0,338.0 L1058.0,338.4 L1059.0,338.8 L1060.0,338.8 L1061.0,338.7 L1062.0,338.9 L1063.0,339.0 L1064.0,338.5 L1065.0,338.4 L1066.0,339.1 L1067.0,339.7 L1068.0,339.7 L1069.0,339.8 L1070.0,339.7 L1071.0,339.9 L1072.0,340.0 L1073.0,340.1 L1074.0,340.7 L1075.0,340.5 L1076.0,340.1 L1077.0,339.8 L1078.0,340.3 L1079.0,340.4 L1080.0,340.7 L1081.0,341.2 L1082.0,341.4 L1083.0,342.0 L1084.0,342.4 L1085.0,342.2 L1086.0,342.4 L1087.0,342.2 L1088.0,342.3 L1089.0,342.4 L1090.0,342.5 L1091.0,342.5 L1092.0,342.3 L1093.0,342.9 L1094.0,342.9 L1095.0,343.3 L1096.0,343.3 L1097.0,343.5 L1098.0,343.6 L1099.0,343.4 L1100.0,344.4 L1101.0,344.2 L1102.0,344.3 L1103.0,344.2 L1104.0,343.7 L1105.0,343.4 L1106.0,343.7 L1107.0,343.2 L1108.0,343.7 L1109.0,344.1 L1110.0,344.2 L1111.0,343.4 L1112.0,343.2 L1113.0,343.1 L1114.0,343.2 L1115.0,344.1 L1116.0,344.0 L1117.0,344.1 L1118.0,343.8 L1119.0,344.0 L1120.0,344.7 L1121.0,344.6 L1122.0,344.6 L1123.0,344.6 L1124.0,345.2 L1125.0,345.0 L1126.0,344.8 L1127.0,345.4 L1128.0,344.5 L1129.0,344.6 L1130.0,344.4 L1131.0,344.2 L1132.0,344.7 L1133.0,344.7 L1134.0,344.6 L1135.0,345.0 L1136.0,344.7 L1137.0,344.2 L1138.0,344.4 L1139.0,344.6 L1140.0,344.5 L1141.0,345.2 L1142.0,345.4 L1143.0,345.4 L1144.0,344.8 L1145.0,344.7 L1146.0,344.7 L1147.0,344.9 L1148.0,345.1 L1149.0,345.3 L1150.0,345.6 L1151.0,346.1 L1152.0,345.9 L1153.0,346.1 L1154.0,345.7 L1155.0,344.9 L1156.0,344.5 L1157.0,345.1 L1158.0,345.7 L1159.0,344.6 L1160.0,344.0 L1161.0,343.7 L1162.0,344.5 L1163.0,343.9 L1164.0,343.6 L1165.0,344.6 L1166.0,345.0 L1167.0,345.4 L1168.0,344.5 L1169.0,343.9 L1170.0,342.9 L1171.0,343.6 L1172.0,343.6 L1173.0,344.0 L1174.0,343.4 L1175.0,344.0 L1176.0,343.4 L1177.0,343.7 L1178.0,344.3 L1179.0,344.4 L1180.0,344.5 L1181.0,344.8 L1182.0,344.7 L1183.0,344.3 L1184.0,343.7 L1185.0,342.9 L1186.0,343.1 L1187.0,343.8 L1188.0,343.3 L1189.0,342.1 L1190.0,341.9 L1191.0,341.1 L1192.0,341.9 L1193.0,342.7 L1194.0,343.0 L1195.0,343.3 L1196.0,342.9 L1197.0,342.9 L1198.0,342.6 L1199.0,342.7 L1200.0,343.1 L1201.0,342.7 L1202.0,340.5 L1203.0,340.4 L1204.0,340.6 L1205.0,341.6 L1206.0,341.7 L1207.0,341.7 L1208.0,341.3 L1209.0,341.7 L1210.0,340.3 L1211.0,339.8 L1212.0,338.8 L1213.0,339.5 L1214.0,339.4 L1215.0,339.9 L1216.0,340.1 L1217.0,340.3 L1218.0,339.8 L1219.0,339.9 L1220.0,340.8 L1221.0,340.3 L1222.0,340.3 L1223.0,339.8 L1224.0,339.0 L1225.0,339.2 L1226.0,338.9 L1227.0,339.3 L1228.0,338.0 L1229.0,338.7 L1230.0,339.3 L1231.0,338.5 L1232.0,337.7 L1233.0,338.4 L1234.0,337.9 L1235.0,337.2 L1236.0,336.8 L1237.0,336.7 L1238.0,336.8 L1239.0,336.4 L1240.0,336.4 L1241.0,337.0 L1242.0,337.5 L1243.0,336.7 L1244.0,337.4 L1245.0,336.6 L1246.0,337.2 L1247.0,337.5 L1248.0,337.9 L1249.0,337.0 L1250.0,335.2 L1251.0,334.7 L1252.0,336.0 L1253.0,335.7 L1254.0,336.6 L1255.0,335.4 L1256.0,335.2 L1257.0,335.6 L1258.0,335.1 L1259.0,334.7 L1260.0,334.9 L1261.0,333.6 L1262.0,333.7 L1263.0,332.6 L1264.0,332.8 L1265.0,332.7 L1266.0,332.1 L1267.0,331.8 L1268.0,331.7 L1269.0,332.0 L1270.0,332.5 L1271.0,333.3 L1272.0,332.5 L1273.0,332.7 L1274.0,331.6 L1275.0,331.4 L1276.0,332.0 L1277.0,331.9 L1278.0,331.4 L1279.0,331.1 L1280.0,331.6 L1281.0,330.6 L1282.0,330.6 L1283.0,330.3 L1284.0,331.9 L1285.0,331.3 L1286.0,330.2 L1287.0,330.5 L1288.0,329.3 L1289.0,328.4 L1290.0,328.4 L1291.0,329.0 L1292.0,328.0 L1293.0,329.3 L1294.0,328.9 L1295.0,328.8 L1296.0,327.9 L1297.0,328.6 L1298.0,327.6 L1299.0,328.9 L1300.0,328.6 L1301.0,327.4 L1302.0,326.4 L1303.0,325.5 L1304.0,326.0 L1305.0,325.1 L1306.0,325.5 L1307.0,325.4 L1308.0,324.6 L1309.0,325.5 L1310.0,325.6 L1311.0,326.4 L1312.0,325.4 L1313.0,324.5 L1314.0,324.3 L1315.0,324.3 L1316.0,324.4 L1317.0,324.2 L1318.0,322.8 L1319.0,322.3 L1320.0,321.0 L1321.0,321.4 L1322.0,320.0 L1323.0,321.0 L1324.0,321.0 L1325.0,321.2 L1326.0,321.3 L1327.0,322.2 L1328.0,321.5 L1329.0,322.2 L1330.0,323.0 L1331.0,322.1 L1332.0,322.3 L1333.0,320.9 L1334.0,318.8 L1335.0,318.7 L1336.0,317.9 L1337.0,318.9 L1338.0,319.1 L1339.0,317.7 L1340.0,318.1 L1341.0,316.6 L1342.0,316.1 L1343.0,316.2 L1344.0,315.5 L1345.0,316.2 L1346.0,317.4 L1347.0,317.5 L1348.0,316.8 L1349.0,318.0 L1350.0,318.6 L1351.0,317.6 L1352.0,317.0 L1353.0,314.2 L1354.0,315.3 L1355.0,314.2 L1356.0,315.0 L1357.0,314.1 L1358.0,314.6 L1359.0,315.0 L1360.0,314.0 L1361.0,315.1 L1362.0,315.5 L1363.0,316.2 L1364.0,315.4 L1365.0,317.2 L1366.0,316.0 L1367.0,312.7 L1368.0,311.3 L1369.0,310.0 L1370.0,311.0 L1371.0,312.6 L1372.0,312.1 L1373.0,312.1 L1374.0,312.3 L1375.0,312.0 L1376.0,312.3 L1377.0,312.7 L1378.0,312.6 L1379.0,310.5 L1380.0,312.5 L1381.0,310.3 L1382.0,311.0 L1383.0,312.5 L1384.0,311.7 L1385.0,310.0 L1386.0,309.2 L1387.0,308.1 L1388.0,308.2 L1389.0,309.4 L1390.0,307.7 L1391.0,308.2 L1392.0,308.0 L1393.0,307.3 L1394.0,305.0 L1395.0,305.8 L1396.0,304.7 L1397.0,307.0 L1398.0,306.3 L1399.0,306.6 L1400.0,306.1 L1401.0,303.3 L1402.0,306.5 L1403.0,307.6 L1404.0,309.9 L1405.0,306.6 L1406.0,305.4 L1407.0,304.6 L1408.0,302.8 L1409.0,303.3 L1410.0,301.6 L1411.0,302.3 L1412.0,302.3 L1413.0,302.7 L1414.0,302.0 L1415.0,304.6 L1416.0,305.5 L1417.0,302.7 L1418.0,301.5 L1419.0,299.4 L1420.0,301.9 L1421.0,302.4 L1422.0,300.9 L1423.0,301.2 L1424.0,301.3 L1425.0,301.2 L1426.0,300.6 L1427.0,302.0 L1428.0,299.8 L1429.0,300.8 L1430.0,299.6 L1431.0,299.3 L1432.0,297.6 L1433.0,296.0 L1434.0,296.3 L1435.0,296.6 L1436.0,295.0 L1437.0,293.7 L1438.0,294.1 L1439.0,293.2 L1440.0,291.4 L1441.0,292.9 L1442.0,294.1 L1443.0,294.6 L1444.0,295.1 L1445.0,295.1 L1446.0,293.9 L1447.0,292.6 L1448.0,291.2 L1449.0,293.1 L1450.0,292.4 L1451.0,292.8 L1452.0,291.0 L1453.0,290.9 L1454.0,289.2 L1455.0,288.1 L1456.0,289.4 L1457.0,292.4 L1458.0,294.9 L1459.0,293.3 L1460.0,290.9 L1461.0,288.4 L1462.0,290.0 L1463.0,289.0 L1464.0,287.9 L1465.0,287.1 L1466.0,288.2 L1467.0,286.3 L1468.0,285.8 L1469.0,287.7 L1470.0,287.3 L1471.0,288.5 L1472.0,287.1 L1473.0,288.5 L1474.0,285.0 L1475.0,283.6 L1476.0,282.2 L1477.0,283.2 L1478.0,284.0"/>
<path stroke="#008000" d="M219.0,552.2 L220.0,552.5 L221.0,554.6 L222.0,555.6 L223.0,557.0 L224.0,555.2 L225.0,556.4 L226.0,558.9 L227.0,558.7 L228.0,561.1 L229.0,562.1 L230.0,560.1 L231.0,560.8 L232.0,560.2 L233.0,559.5 L234.0,557.1 L235.0,555.9 L236.0,553.5 L237.0,553.4 L238.0,552.6 L239.0,551.4 L240.0,551.7 L241.0,549.7 L242.0,548.4 L243.0,549.4 L244.0,549.1 L245.0,552.1 L246.0,551.8 L247.0,550.9 L248.0,548.8 L249.0,548.0 L250.0,550.2 L251.0,549.4 L252.0,548.2 L253.0,551.1 L254.0,549.7 L255.0,550.3 L256.0,549.0 L257.0,546.0 L258.0,546.7 L259.0,545.9 L260.0,544.0 L261.0,543.7 L262.0,542.1 L263.0,540.8 L264.0,539.9 L265.0,538.5 L266.0,538.7 L267.0,538.1 L268.0,538.1 L269.0,534.2 L270.0,534.4 L271.0,534.1 L272.0,533.7 L273.0,533.3 L274.0,535.1 L275.0,535.2 L276.0,534.5 L277.0,533.1 L278.0,532.0 L279.0,531.6 L280.0,528.9 L281.0,528.3 L282.0,527.7 L283.0,525.4 L284.0,525.3 L285.0,525.0 L286.0,523.0 L287.0,522.1 L288.0,520.2 L289.0,520.2 L290.0,518.2 L291.0,517.6 L292.0,517.2 L293.0,516.1 L294.0,516.3 L295.0,514.8 L296.0,513.4 L297.0,512.4 L298.0,512.0 L299.0,511.2 L300.0,512.8 L301.0,511.6 L302.0,509.7 L303.0,508.1 L304.0,508.4 L305.0,506.7 L306.0,505.8 L307.0,503.9 L308.0,503.2 L309.0,499.9 L310.0,497.2 L311.0,496.0 L312.0,493.5 L313.0,491.7 L314.0,491.2 L315.0,489.5 L316.0,488.4 L317.0,486.1 L318.0,485.1 L319.0,484.3 L320.0,483.2 L321.0,483.0 L322.0,482.0 L323.0,480.1 L324.0,477.9 L325.0,477.8 L326.0,477.2 L327.0,477.0 L328.0,474.9 L329.0,473.9 L330.0,471.8 L331.0,471.6 L332.0,471.2 L333.0,471.0 L334.0,469.2 L335.0,467.7 L336.0,465.4 L337.0,464.5 L338.0,464.1 L339.0,463.3 L340.0,461.6 L341.0,460.3 L342.0,458.8 L343.0,457.3 L344.0,454.2 L345.0,453.6 L346.0,451.1 L347.0,450.1 L348.0,449.8 L349.0,447.8 L350.0,446.5 L351.0,444.9 L352.0,443.5 L353.0,442.5 L354.0,441.9 L355.0,441.2 L356.0,440.4 L357.0,439.4 L358.0,438.0 L359.0,437.3 L360.0,435.2 L361.0,435.0 L362.0,434.6 L363.0,433.9 L364.0,432.4 L365.0,431.2 L366.0,429.8 L367.0,429.2 L368.0,428.2 L369.0,428.4 L370.0,427.8 L371.0,427.8 L372.0,426.4 L373.0,425.7 L374.0,425.2 L375.0,423.8 L376.0,422.5 L377.0,420.9 L378.0,419.0 L379.0,418.0 L380.0,416.5 L381.0,415.7 L382.0,414.9 L383.0,414.1 L384.0,412.5 L385.0,411.0 L386.0,409.6 L387.0,408.6 L388.0,407.2 L389.0,406.9 L390.0,406.0 L391.0,405.6 L392.0,404.9 L393.0,404.7 L394.0,403.8 L395.0,402.3 L396.0,401.1 L397.0,400.0 L398.0,399.9 L399.0,398.8 L400.0,398.9 L401.0,398.5 L402.0,398.1 L403.0,397.3 L404.0,396.3 L405.0,396.3 L406.0,395.2 L407.0,394.4 L408.0,393.7 L409.0,393.1 L410.0,392.3 L411.0,391.7 L412.0,391.2 L413.0,389.4 L414.0,389.1 L415.0,388.1 L416.0,387.5 L417.0,386.3 L418.0,385.8 L419.0,385.5 L420.0,384.3 L421.0,384.1 L422.0,383.2 L423.0,382.8 L424.0,381.9 L425.0,381.5 L426.0,380.7 L427.0,380.0 L428.0,378.3 L429.0,377.6 L430.0,376.6 L431.0,376.0 L432.0,375.6 L433.0,374.3 L434.0,373.4 L435.0,372.6 L436.0,371.7 L437.0,370.4 L438.0,369.8 L439.0,369.0 L440.0,368.3 L441.0,367.7 L442.0,367.0 L443.0,366.5 L444.0,365.8 L445.0,364.5 L446.0,363.1 L447.0,362.1 L448.0,361.2 L449.0,361.3 L450.0,360.7 L451.0,359.4 L452.0,358.5 L453.0,357.0 L454.0,357.1 L455.0,356.2 L456.0,355.6 L457.0,355.3 L458.0,353.9 L459.0,353.4 L460.0,352.0 L461.0,351.0 L462.0,349.9 L463.0,348.8 L464.0,348.0 L465.0,346.9 L466.0,346.1 L467.0,346.0 L468.0,345.2 L469.0,344.2 L470.0,343.3 L471.0,342.1 L472.0,341.8 L473.0,340.6 L474.0,339.8 L475.0,339.7 L476.0,338.8 L477.0,338.3 L478.0,337.7 L479.0,337.4 L480.0,337.0 L481.0,335.6 L482.0,335.0 L483.0,333.9 L484.0,333.5 L485.0,332.9 L486.0,331.9 L487.0,330.9 L488.0,330.0 L489.0,329.1 L490.0,328.2 L491.0,327.8 L492.0,327.4 L493.0,326.5 L494.0,325.9 L495.0,325.1 L496.0,324.7 L497.0,324.6 L498.0,324.4 L499.0,323.4 L500.0,322.6 L501.0,321.8 L502.0,321.2 L503.0,320.6 L504.0,320.0 L505.0,319.7 L506.0,319.2 L507.0,318.4 L508.0,317.8 L509.0,316.9 L510.0,316.5 L511.0,316.2 L512.0,315.7 L513.0,315.3 L514.0,314.5 L515.0,313.8 L516.0,313.2 L517.0,312.8 L518.0,311.8 L519.0,310.8 L520.0,310.4 L521.0,310.0 L522.0,309.6 L523.0,309.1 L524.0,308.2 L525.0,307.6 L526.0,307.2 L527.0,306.8 L528.0,306.1 L529.0,305.5 L530.0,304.5 L531.0,303.7 L532.0,303.2 L533.0,302.8 L534.0,302.3 L535.0,301.3 L536.0,300.4 L537.0,299.2 L538.0,298.7 L539.0,297.7 L540.0,297.2 L541.0,296.2 L542.0,295.2 L543.0,294.5 L544.0,294.4 L545.0,293.8 L546.0,293.6 L547.0,292.2 L548.0,291.4 L549.0,290.2 L550.0,289.6 L551.0,289.0 L552.0,288.0 L553.0,287.8 L554.0,287.1 L555.0,286.7 L556.0,285.6 L557.0,284.7 L558.0,283.7 L559.0,282.6 L560.0,282.0 L561.0,281.2 L562.0,280.9 L563.0,279.9 L564.0,279.6 L565.0,278.7 L566.0,277.8 L567.0,276.7 L568.0,275.9 L569.0,275.4 L570.0,274.6 L571.0,273.5 L572.0,272.4 L573.0,271.3 L574.0,270.9 L575.0,269.8 L576.0,269.2 L577.0,268.6 L578.0,267.8 L579.0,267.0 L580.0,265.8 L581.0,264.9 L582.0,263.8 L583.0,263.1 L584.0,262.5 L585.0,262.0 L586.0,260.7 L587.0,259.4 L588.0,258.4 L589.0,257.4 L590.0,256.5 L591.0,255.5 L592.0,254.8 L593.0,253.8 L594.0,253.0 L595.0,252.3 L596.0,251.6 L597.0,250.9 L598.0,249.6 L599.0,248.9 L600.0,247.6 L601.0,246.6 L602.0,245.7 L603.0,244.9 L604.0,244.0 L605.0,243.4 L606.0,242.4 L607.0,241.6 L608.0,240.7 L609.0,240.1 L610.0,239.1 L611.0,237.6 L612.0,236.7 L613.0,235.6 L614.0,234.4 L615.0,233.5 L616.0,232.4 L617.0,231.7 L618.0,231.2 L619.0,230.4 L620.0,229.6 L621.0,228.7 L622.0,227.4 L623.0,226.6 L624.0,225.4 L625.0,224.7 L626.0,223.9 L627.0,222.9 L628.0,221.9 L629.0,220.8 L630.0,219.6 L631.0,218.9 L632.0,218.4 L633.0,218.1 L634.0,217.2 L635.0,216.4 L636.0,215.8 L637.0,215.2 L638.0,214.5 L639.0,213.8 L640.0,213.2 L641.0,212.2 L642.0,211.6 L643.0,211.1 L644.0,210.3 L645.0,209.9 L646.0,209.2 L647.0,208.2 L648.0,207.3 L649.0,207.3 L650.0,206.9 L651.0,206.6 L652.0,206.0 L653.0,204.8 L654.0,204.0 L655.0,203.7 L656.0,203.7 L657.0,203.2 L658.0,203.4 L659.0,203.0 L660.0,202.9 L661.0,202.6 L662.0,202.0 L663.0,201.5 L664.0,200.8 L665.0,200.1 L666.0,199.2 L667.0,199.4 L668.0,199.4 L669.0,199.6 L670.0,199.2 L671.0,198.9 L672.0,198.6 L673.0,198.2 L674.0,197.7 L675.0,197.4 L676.0,197.5 L677.0,197.5 L678.0,197.4 L679.0,197.0 L680.0,197.0 L681.0,196.7 L682.0,196.9 L683.0,196.9 L684.0,196.9 L685.0,196.2 L686.0,195.8 L687.0,195.1 L688.0,195.2 L689.0,195.2 L690.0,195.2 L691.0,195.2 L692.0,195.0 L693.0,194.9 L694.0,194.6 L695.0,193.9 L696.0,193.7 L697.0,194.1 L698.0,194.6 L699.0,194.9 L700.0,194.9 L701.0,194.7 L702.0,194.8 L703.0,194.3 L704.0,193.9 L705.0,193.4 L706.0,193.3 L707.0,193.5 L708.0,193.5 L709.0,193.4 L710.0,193.1 L711.0,193.0 L712.0,192.9 L713.0,193.0 L714.0,192.8 L715.0,192.5 L716.0,192.4 L717.0,191.9 L718.0,192.2 L719.0,192.3 L720.0,192.5 L721.0,192.0 L722.0,191.6 L723.0,191.3 L724.0,191.4 L725.0,191.5 L726.0,192.0 L727.0,191.9 L728.0,191.6 L729.0,191.3 L730.0,191.4 L731.0,191.5 L732.0,192.0 L733.0,191.0 L734.0,190.1 L735.0,189.3 L736.0,189.9 L737.0,189.8 L738.0,189.7 L739.0,189.7 L740.0,189.4 L741.0,188.8 L742.0,189.1 L743.0,189.1 L744.0,189.3 L745.0,189.3 L746.0,189.1 L747.0,189.4 L748.0,188.8 L749.0,188.3 L750.0,188.2 L751.0,187.8 L752.0,187.6 L753.0,187.5 L754.0,187.1 L755.0,186.9 L756.0,186.9 L757.0,187.1 L758.0,187.2 L759.0,187.6 L760.0,187.4 L761.0,187.7 L762.0,187.5 L763.0,187.5 L764.0,187.2 L765.0,187.3 L766.0,186.9 L767.0,186.5 L768.0,186.2 L769.0,185.9 L770.0,185.7 L771.0,185.2 L772.0,185.3 L773.0,185.2 L774.0,185.1 L775.0,184.8 L776.0,184.4 L777.0,184.2 L778.0,184.0 L779.0,183.9 L780.0,183.5 L781.0,184.0 L782.0,184.5 L783.0,184.8 L784.0,184.3 L785.0,183.9 L786.0,183.5 L787.0,183.6 L788.0,183.6 L789.0,183.4 L790.0,183.2 L791.0,182.9 L792.0,182.7 L793.0,183.0 L794.0,182.8 L795.0,183.1 L796.0,182.8 L797.0,182.6 L798.0,182.4 L799.0,182.0 L800.0,181.8 L801.0,181.2 L802.0,181.0 L803.0,180.9 L804.0,180.9 L805.0,180.4 L806.0,180.2 L807.0,180.0 L808.0,180.3 L809.0,180.3 L810.0,180.6 L811.0,180.8 L812.0,180.4 L813.0,180.2 L814.0,179.7 L815.0,179.4 L816.0,179.0 L817.0,179.2 L818.0,179.5 L819.0,179.5 L820.0,179.0 L821.0,178.6 L822.0,178.0 L823.0,177.7 L824.0,177.2 L825.0,177.2 L826.0,176.8 L827.0,176.1 L828.0,176.1 L829.0,176.2 L830.0,176.3 L831.0,176.5 L832.0,176.5 L833.0,176.6 L834.0,176.2 L835.0,175.9 L836.0,175.5 L837.0,175.0 L838.0,175.2 L839.0,175.1 L840.0,175.3 L841.0,175.3 L842.0,175.4 L843.0,175.1 L844.0,174.7 L845.0,174.4 L846.0,174.2 L847.0,173.9 L848.0,174.0 L849.0,174.0 L850.0,173.9 L851.0,173.8 L852.0,173.7 L853.0,173.3 L854.0,173.0 L855.0,172.6 L856.0,172.1 L857.0,171.7 L858.0,171.4 L859.0,171.4 L860.0,171.5 L861.0,171.3 L862.0,171.6 L863.0,171.1 L864.0,170.9 L865.0,170.9 L866.0,171.3 L867.0,171.5 L868.0,170.6 L869.0,169.9 L870.0,169.2 L871.0,169.2 L872.0,168.5 L873.0,168.0 L874.0,168.2 L875.0,168.5 L876.0,168.5 L877.0,168.4 L878.0,168.2 L879.0,167.9 L880.0,167.7 L881.0,167.5 L882.0,167.0 L883.0,166.9 L884.0,166.8 L885.0,166.9 L886.0,166.6 L887.0,166.3 L888.0,166.3 L889.0,166.2 L890.0,166.4 L891.0,166.2 L892.0,165.5 L893.0,165.1 L894.0,164.4 L895.0,164.4 L896.0,163.9 L897.0,163.8 L898.0,163.8 L899.0,164.0 L900.0,163.8 L901.0,163.2 L902.0,163.0 L903.0,162.9 L904.0,162.7 L905.0,163.0 L906.0,163.3 L907.0,162.9 L908.0,162.7 L909.0,162.4 L910.0,162.0 L911.0,161.5 L912.0,161.6 L913.0,161.7 L914.0,161.5 L915.0,161.7 L916.0,161.1 L917.0,161.2 L918.0,160.5 L919.0,160.5 L920.0,160.5 L921.0,160.5 L922.0,160.1 L923.0,159.8 L924.0,159.7 L925.0,159.4 L926.0,158.8 L927.0,158.5 L928.0,158.0 L929.0,158.3 L930.0,157.8 L931.0,157.9 L932.0,157.8 L933.0,157.6 L934.0,157.2 L935.0,156.5 L936.0,156.3 L937.0,156.1 L938.0,156.2 L939.0,156.0 L940.0,156.6 L941.0,156.4 L942.0,156.6 L943.0,156.0 L944.0,156.2 L945.0,155.5 L946.0,155.1 L947.0,154.6 L948.0,153.9 L949.0,154.3 L950.0,155.3 L951.0,155.6 L952.0,154.8 L953.0,154.4 L954.0,153.1 L955.0,153.7 L956.0,153.6 L957.0,153.5 L958.0,153.7 L959.0,153.7 L960.0,153.5 L961.0,153.1 L962.0,153.0 L963.0,153.4 L964.0,153.0 L965.0,152.3 L966.0,151.3 L967.0,151.3 L968.0,151.5 L969.0,151.7 L970.0,151.4 L971.0,151.2 L972.0,150.9 L973.0,150.6 L974.0,150.9 L975.0,151.4 L976.0,150.7 L977.0,151.1 L978.0,150.3 L979.0,150.4 L980.0,150.4 L981.0,150.3 L982.0,149.7 L983.0,149.8 L984.0,150.0 L985.0,149.9 L986.0,150.3 L987.0,149.9 L988.0,150.0 L989.0,149.5 L990.0,149.0 L991.0,148.6 L992.0,148.8 L993.0,148.8 L994.0,148.2 L995.0,147.5 L996.0,147.5 L997.0,147.7 L998.0,147.7 L999.0,148.4 L1000.0,147.2 L1001.0,147.0 L1002.0,146.7 L1003.0,146.9 L1004.0,147.1 L1005.0,147.7 L1006.0,147.3 L1007.0,146.9 L1008.0,146.5 L1009.0,146.4 L1010.0,146.0 L1011.0,145.7 L1012.0,145.3 L1013.0,145.4 L1014.0,145.4 L1015.0,145.2 L1016.0,145.9 L1017.0,145.5 L1018.0,145.5 L1019.0,145.5 L1020.0,145.3 L1021.0,145.0 L1022.0,144.8 L1023.0,144.8 L1024.0,144.7 L1025.0,145.2 L1026.0,144.8 L1027.0,144.7 L1028.0,144.6 L1029.0,144.8 L1030.0,144.6 L1031.0,144.5 L1032.0,144.5 L1033.0,144.7 L1034.0,144.1 L1035.0,144.6 L1036.0,144.5 L1037.0,144.6 L1038.0,144.4 L1039.0,145.0 L1040.0,145.2 L1041.0,145.3 L1042.0,144.8 L1043.0,145.0 L1044.0,144.4 L1045.0,143.9 L1046.0,144.1 L1047.0,143.5 L1048.0,143.7 L1049.0,144.5 L1050.0,145.2 L1051.0,145.3 L1052.0,144.9 L1053.0,144.6 L1054.0,144.1 L1055.0,143.6 L1056.0,143.6 L1057.0,143.7 L1058.0,144.4 L1059.0,144.4 L1060.0,144.4 L1061.0,143.7 L1062.0,143.3 L1063.0,143.2 L1064.0,143.2 L1065.0,143.6 L1066.0,142.9 L1067.0,143.0 L1068.0,143.1 L1069.0,144.0 L1070.0,144.2 L1071.0,145.5 L1072.0,144.4 L1073.0,144.2 L1074.0,144.0 L1075.0,144.0 L1076.0,143.8 L1077.0,144.4 L1078.0,144.6 L1079.0,144.0 L1080.0,144.2 L1081.0,144.1 L1082.0,144.4 L1083.0,143.8 L1084.0,144.1 L1085.0,144.2 L1086.0,144.7 L1087.0,144.6 L1088.0,144.7 L1089.0,144.8 L1090.0,145.5 L1091.0,145.6 L1092.0,146.3 L1093.0,145.3 L1094.0,144.9 L1095.0,143.5 L1096.0,144.2 L1097.0,145.5 L1098.0,146.5 L1099.0,145.7 L1100.0,145.0 L1101.0,145.8 L1102.0,145.0 L1103.0,144.0 L1104.0,144.0 L1105.0,144.9 L1106.0,145.1 L1107.0,146.0 L1108.0,146.6 L1109.0,146.9 L1110.0,147.3 L1111.0,147.0 L1112.0,147.4 L1113.0,146.6 L1114.0,146.2 L1115.0,146.2 L1116.0,145.9 L1117.0,146.2 L1118.0,146.0 L1119.0,146.6 L1120.0,146.2 L1121.0,145.8 L1122.0,144.5 L1123.0,145.1 L1124.0,146.1 L1125.0,147.0 L1126.0,146.9 L1127.0,147.3 L1128.0,147.3 L1129.0,147.0 L1130.0,146.4 L1131.0,146.7 L1132.0,146.6 L1133.0,146.7 L1134.0,147.7 L1135.0,148.0 L1136.0,147.4 L1137.0,146.7 L1138.0,148.1 L1139.0,149.5 L1140.0,150.2 L1141.0,149.1 L1142.0,147.9 L1143.0,147.3 L1144.0,147.3 L1145.0,148.3 L1146.0,148.1 L1147.0,148.0 L1148.0,146.9 L1149.0,147.1 L1150.0,148.1 L1151.0,149.1 L1152.0,149.6 L1153.0,149.2 L1154.0,150.5 L1155.0,149.9 L1156.0,150.0 L1157.0,150.1 L1158.0,149.9 L1159.0,150.1 L1160.0,149.9 L1161.0,149.9 L1162.0,150.4 L1163.0,151.2 L1164.0,152.1 L1165.0,151.6 L1166.0,151.3 L1167.0,151.9 L1168.0,152.1 L1169.0,152.8 L1170.0,152.7 L1171.0,152.7 L1172.0,152.1 L1173.0,151.6 L1174.0,151.5 L1175.0,151.2 L1176.0,151.0 L1177.0,151.1 L1178.0,152.5 L1179.0,153.3 L1180.0,152.9 L1181.0,152.4 L1182.0,152.1 L1183.0,153.6 L1184.0,153.7 L1185.0,155.3 L1186.0,153.7 L1187.0,153.4 L1188.0,153.9 L1189.0,153.5 L1190.0,154.7 L1191.0,154.4 L1192.0,154.6 L1193.0,155.1 L1194.0,155.7 L1195.0,155.2 L1196.0,154.4 L1197.0,154.0 L1198.0,155.0 L1199.0,154.9 L1200.0,155.4 L1201.0,156.0 L1202.0,157.9 L1203.0,158.2 L1204.0,157.5 L1205.0,156.8 L1206.0,156.8 L1207.0,156.2 L1208.0,157.1 L1209.0,157.8 L1210.0,157.8 L1211.0,157.5 L1212.0,158.3 L1213.0,158.1 L1214.0,158.6 L1215.0,158.2 L1216.0,158.3 L1217.0,159.4 L1218.0,158.6 L1219.0,159.8 L1220.0,159.9 L1221.0,160.1 L1222.0,159.8 L1223.0,160.1 L1224.0,160.4 L1225.0,159.3 L1226.0,160.4 L1227.0,161.1 L1228.0,160.5 L1229.0,160.6 L1230.0,161.6 L1231.0,160.7 L1232.0,160.5 L1233.0,160.7 L1234.0,160.7 L1235.0,160.9 L1236.0,161.0 L1237.0,162.8 L1238.0,163.8 L1239.0,165.4 L1240.0,164.6 L1241.0,165.0 L1242.0,164.6 L1243.0,165.1 L1244.0,164.2 L1245.0,164.2 L1246.0,164.1 L1247.0,164.4 L1248.0,165.8 L1249.0,165.6 L1250.0,165.2 L1251.0,166.0 L1252.0,165.9 L1253.0,167.1 L1254.0,166.5 L1255.0,166.5 L1256.0,166.1 L1257.0,166.1 L1258.0,165.4 L1259.0,165.2 L1260.0,164.9 L1261.0,164.3 L1262.0,165.2 L1263.0,164.8 L1264.0,165.4 L1265.0,166.6 L1266.0,166.3 L1267.0,167.9 L1268.0,169.3 L1269.0,169.6 L1270.0,170.3 L1271.0,169.7 L1272.0,170.4 L1273.0,168.9 L1274.0,168.7 L1275.0,168.4 L1276.0,169.8 L1277.0,170.0 L1278.0,168.2 L1279.0,169.8 L1280.0,170.4 L1281.0,172.5 L1282.0,172.7 L1283.0,172.6 L1284.0,173.8 L1285.0,172.9 L1286.0,170.8 L1287.0,170.6 L1288.0,171.1 L1289.0,172.0 L1290.0,171.5 L1291.0,172.4 L1292.0,171.4 L1293.0,172.7 L1294.0,172.1 L1295.0,173.3 L1296.0,173.3 L1297.0,171.7 L1298.0,173.7 L1299.0,172.8 L1300.0,173.8 L1301.0,173.5 L1302.0,173.4 L1303.0,173.8 L1304.0,174.0 L1305.0,175.4 L1306.0,174.1 L1307.0,173.0 L1308.0,173.4 L1309.0,173.7 L1310.0,175.1 L1311.0,175.2 L1312.0,176.4 L1313.0,176.2 L1314.0,176.9 L1315.0,177.7 L1316.0,178.2 L1317.0,177.9 L1318.0,178.0 L1319.0,179.5 L1320.0,178.4 L1321.0,177.2 L1322.0,178.7 L1323.0,178.0 L1324.0,177.6 L1325.0,179.2 L1326.0,179.2 L1327.0,179.5 L1328.0,180.4 L1329.0,181.7 L1330.0,181.5 L1331.0,179.5 L1332.0,180.1 L1333.0,179.7 L1334.0,180.2 L1335.0,181.2 L1336.0,180.8 L1337.0,182.1 L1338.0,182.4 L1339.0,180.6 L1340.0,181.4 L1341.0,181.1 L1342.0,180.5 L1343.0,180.9 L1344.0,179.3 L1345.0,180.5 L1346.0,180.9 L1347.0,181.5 L1348.0,180.3 L1349.0,181.3 L1350.0,181.5 L1351.0,183.2 L1352.0,182.2 L1353.0,183.2 L1354.0,182.9 L1355.0,181.8 L1356.0,182.0 L1357.0,183.9 L1358.0,185.1 L1359.0,186.6 L1360.0,185.3 L1361.0,184.6 L1362.0,185.5 L1363.0,184.6 L1364.0,186.5 L1365.0,185.4 L1366.0,185.3 L1367.0,186.3 L1368.0,185.0 L1369.0,184.7 L1370.0,186.8 L1371.0,187.0 L1372.0,186.7 L1373.0,187.1 L1374.0,186.8 L1375.0,189.0 L1376.0,188.8 L1377.0,189.9 L1378.0,189.6 L1379.0,187.3 L1380.0,185.7 L1381.0,186.6 L1382.0,186.5 L1383.0,187.4 L1384.0,188.1 L1385.0,189.9 L1386.0,190.0 L1387.0,188.3 L1388.0,187.5 L1389.0,185.1 L1390.0,187.3 L1391.0,188.9 L1392.0,190.6 L1393.0,189.6 L1394.0,190.3 L1395.0,188.1 L1396.0,190.6 L1397.0,189.9 L1398.0,190.5 L1399.0,188.8 L1400.0,189.0 L1401.0,188.4 L1402.0,188.6 L1403.0,189.5 L1404.0,191.5 L1405.0,188.3 L1406.0,188.5 L1407.0,188.3 L1408.0,190.7 L1409.0,190.4 L1410.0,191.9 L1411.0,190.6 L1412.0,191.5 L1413.0,190.2 L1414.0,190.8 L1415.0,191.2 L1416.0,190.4 L1417.0,192.7 L1418.0,192.6 L1419.0,190.7 L1420.0,191.5 L1421.0,191.5 L1422.0,191.8 L1423.0,194.1 L1424.0,193.4 L1425.0,191.8 L1426.0,194.6 L1427.0,193.6 L1428.0,193.7 L1429.0,192.5 L1430.0,192.1 L1431.0,192.2 L1432.0,194.5 L1433.0,192.1 L1434.0,192.8 L1435.0,193.5 L1436.0,192.3 L1437.0,190.8 L1438.0,193.4 L1439.0,191.5 L1440.0,191.3 L1441.0,191.9 L1442.0,192.7 L1443.0,193.0 L1444.0,193.3 L1445.0,192.7 L1446.0,192.0 L1447.0,193.5 L1448.0,191.9 L1449.0,191.4 L1450.0,193.1 L1451.0,194.1 L1452.0,193.1 L1453.0,194.0 L1454.0,195.2 L1455.0,195.6 L1456.0,195.8 L1457.0,196.8 L1458.0,196.6 L1459.0,193.7 L1460.0,196.5 L1461.0,195.9 L1462.0,194.1 L1463.0,197.1 L1464.0,195.0 L1465.0,197.7 L1466.0,196.0 L1467.0,197.1 L1468.0,198.1 L1469.0,199.8 L1470.0,199.3 L1471.0,199.5 L1472.0,196.2 L1473.0,193.1 L1474.0,195.4 L1475.0,195.5 L1476.0,198.9 L1477.0,197.2 L1478.0,196.8"/>
</g>
<rect x="1111.2" y="716.8" width="107.5" height="7.2" fill="#000000"/>
<text class="lg" x="1227.7" y="734.8">x = 22 cm</text>
<rect x="1111.2" y="772.2" width="107.5" height="7.2" fill="#ff0000"/>
<text class="lg" x="1227.7" y="790.2">x = 18 cm</text>
<rect x="1111.2" y="827.6" width="107.5" height="7.2" fill="#0000ff"/>
<text class="lg" x="1227.7" y="845.6">x = 14 cm</text>
<rect x="1111.2" y="883.0" width="107.5" height="7.2" fill="#008000"/>
<text class="lg" x="1227.7" y="901.0">x = 10 cm</text>
<g class="tk" text-anchor="middle" letter-spacing="4.37">
<text transform="translate(222.6,1028.3) scale(0.89,1)">400</text>
<text transform="translate(473.2,1028.3) scale(0.89,1)">500</text>
<text transform="translate(723.8,1028.3) scale(0.89,1)">600</text>
<text transform="translate(974.4,1028.3) scale(0.89,1)">700</text>
<text transform="translate(1225.0,1028.3) scale(0.89,1)">800</text>
<text transform="translate(1475.6,1028.3) scale(0.89,1)">900</text>
</g>
<g class="tk" text-anchor="end" letter-spacing="4.37">
<text transform="translate(202.9,981.0) scale(0.89,1)">0.0</text>
<text transform="translate(202.9,797.0) scale(0.89,1)">0.2</text>
<text transform="translate(202.9,613.0) scale(0.89,1)">0.4</text>
<text transform="translate(202.9,429.0) scale(0.89,1)">0.6</text>
<text transform="translate(202.9,245.0) scale(0.89,1)">0.8</text>
<text transform="translate(202.9,61.0) scale(0.89,1)">1.0</text>
</g>
<text class="ax" x="850.4" y="1102" text-anchor="middle">Wavelength (nm)</text>
<text class="ax" transform="translate(94.2,512.6) rotate(-90)" text-anchor="middle">Transmittance <tspan font-style="italic">T</tspan></text>
</g>
<g>
<rect x="342.20" y="47.12" width="3.00" height="9.01" fill="#000" fill-opacity="0.08"/>
<rect x="342.20" y="56.13" width="3.00" height="3.00" fill="#000" fill-opacity="0.01"/>
<rect x="342.20" y="954.53" width="3.00" height="3.00" fill="#000" fill-opacity="0.02"/>
<rect x="342.20" y="957.54" width="3.00" height="6.01" fill="#000" fill-opacity="0.08"/>
<rect x="342.20" y="963.55" width="3.00" height="3.00" fill="#000" fill-opacity="0.05"/>
<rect x="345.20" y="47.12" width="3.00" height="9.01" fill="#000" fill-opacity="1.00"/>
<rect x="345.20" y="56.13" width="3.00" height="3.00" fill="#000" fill-opacity="0.15"/>
<rect x="345.20" y="954.53" width="3.00" height="3.00" fill="#000" fill-opacity="0.30"/>
<rect x="345.20" y="957.54" width="3.00" height="6.01" fill="#000" fill-opacity="1.00"/>
<rect x="345.20" y="963.55" width="3.00" height="3.00" fill="#000" fill-opacity="0.60"/>
<rect x="348.21" y="47.12" width="3.00" height="9.01" fill="#000" fill-opacity="0.15"/>
<rect x="348.21" y="56.13" width="3.00" height="3.00" fill="#000" fill-opacity="0.02"/>
<rect x="348.21" y="954.53" width="3.00" height="3.00" fill="#000" fill-opacity="0.04"/>
<rect x="348.21" y="957.54" width="3.00" height="6.01" fill="#000" fill-opacity="0.15"/>
<rect x="348.21" y="963.55" width="3.00" height="3.00" fill="#000" fill-opacity="0.09"/>
<rect x="468.40" y="47.12" width="3.00" height="18.03" fill="#000" fill-opacity="0.38"/>
<rect x="468.40" y="945.52" width="3.00" height="3.00" fill="#000" fill-opacity="0.17"/>
<rect x="468.40" y="948.53" width="3.00" height="15.02" fill="#000" fill-opacity="0.38"/>
<rect x="468.40" y="963.55" width="3.00" height="3.00" fill="#000" fill-opacity="0.23"/>
<rect x="471.40" y="47.12" width="3.00" height="18.03" fill="#000" fill-opacity="0.85"/>
<rect x="471.40" y="945.52" width="3.00" height="3.00" fill="#000" fill-opacity="0.38"/>
<rect x="471.40" y="948.53" width="3.00" height="15.02" fill="#000" fill-opacity="0.85"/>
<rect x="471.40" y="963.55" width="3.00" height="3.00" fill="#000" fill-opacity="0.51"/>
<rect x="594.60" y="47.12" width="3.00" height="9.01" fill="#000" fill-opacity="0.68"/>
<rect x="594.60" y="56.13" width="3.00" height="3.00" fill="#000" fill-opacity="0.10"/>
<rect x="594.60" y="954.53" width="3.00" height="3.00" fill="#000" fill-opacity="0.20"/>
<rect x="594.60" y="957.54" width="3.00" height="6.01" fill="#000" fill-opacity="0.68"/>
<rect x="594.60" y="963.55" width="3.00" height="3.00" fill="#000" fill-opacity="0.41"/>
<rect x="597.61" y="47.12" width="3.00" height="9.01" fill="#000" fill-opacity="0.55"/>
<rect x="597.61" y="56.13" width="3.00" height="3.00" fill="#000" fill-opacity="0.08"/>
<rect x="597.61" y="954.53" width="3.00" height="3.00" fill="#000" fill-opacity="0.16"/>
<rect x="597.61" y="957.54" width="3.00" height="6.01" fill="#000" fill-opacity="0.55"/>
<rect x="597.61" y="963.55" width="3.00" height="3.00" fill="#000" fill-opacity="0.33"/>
<rect x="720.80" y="47.12" width="3.00" height="18.03" fill="#000" fill-opacity="0.98"/>
<rect x="720.80" y="945.52" width="3.00" height="3.00" fill="#000" fill-opacity="0.44"/>
<rect x="720.80" y="948.53" width="3.00" height="15.02" fill="#000" fill-opacity="0.98"/>
<rect x="720.80" y="963.55" width="3.00" height="3.00" fill="#000" fill-opacity="0.59"/>
<rect x="723.81" y="47.12" width="3.00" height="18.03" fill="#000" fill-opacity="0.25"/>
<rect x="723.81" y="945.52" width="3.00" height="3.00" fill="#000" fill-opacity="0.11"/>
<rect x="723.81" y="948.53" width="3.00" height="15.02" fill="#000" fill-opacity="0.25"/>
<rect x="723.81" y="963.55" width="3.00" height="3.00" fill="#000" fill-opacity="0.15"/>
<rect x="844.00" y="47.12" width="3.00" height="9.01" fill="#000" fill-opacity="0.28"/>
<rect x="844.00" y="56.13" width="3.00" height="3.00" fill="#000" fill-opacity="0.04"/>
<rect x="844.00" y="954.53" width="3.00" height="3.00" fill="#000" fill-opacity="0.09"/>
<rect x="844.00" y="957.54" width="3.00" height="6.01" fill="#000" fill-opacity="0.28"/>
<rect x="844.00" y="963.55" width="3.00" height="3.00" fill="#000" fill-opacity="0.17"/>
<rect x="847.00" y="47.12" width="3.00" height="9.01" fill="#000" fill-opacity="0.95"/>
<rect x="847.00" y="56.13" width="3.00" height="3.00" fill="#000" fill-opacity="0.14"/>
<rect x="847.00" y="954.53" width="3.00" height="3.00" fill="#000" fill-opacity="0.28"/>
<rect x="847.00" y="957.54" width="3.00" height="6.01" fill="#000" fill-opacity="0.95"/>
<rect x="847.00" y="963.55" width="3.00" height="3.00" fill="#000" fill-opacity="0.57"/>
<rect x="970.20" y="47.12" width="3.00" height="18.03" fill="#000" fill-opacity="0.58"/>
<rect x="970.20" y="945.52" width="3.00" height="3.00" fill="#000" fill-opacity="0.26"/>
<rect x="970.20" y="948.53" width="3.00" height="15.02" fill="#000" fill-opacity="0.58"/>
<rect x="970.20" y="963.55" width="3.00" height="3.00" fill="#000" fill-opacity="0.35"/>
<rect x="973.21" y="47.12" width="3.00" height="18.03" fill="#000" fill-opacity="0.65"/>
<rect x="973.21" y="945.52" width="3.00" height="3.00" fill="#000" fill-opacity="0.29"/>
<rect x="973.21" y="948.53" width="3.00" height="15.02" fill="#000" fill-opacity="0.65"/>
<rect x="973.21" y="963.55" width="3.00" height="3.00" fill="#000" fill-opacity="0.39"/>
<rect x="1096.40" y="47.12" width="3.00" height="9.01" fill="#000" fill-opacity="0.88"/>
<rect x="1096.40" y="56.13" width="3.00" height="3.00" fill="#000" fill-opacity="0.13"/>
<rect x="1096.40" y="954.53" width="3.00" height="3.00" fill="#000" fill-opacity="0.27"/>
<rect x="1096.40" y="957.54" width="3.00" height="6.01" fill="#000" fill-opacity="0.88"/>
<rect x="1096.40" y="963.55" width="3.00" height="3.00" fill="#000" fill-opacity="0.53"/>
<rect x="1099.41" y="47.12" width="3.00" height="9.01" fill="#000" fill-opacity="0.35"/>
<rect x="1099.41" y="56.13" width="3.00" height="3.00" fill="#000" fill-opacity="0.05"/>
<rect x="1099.41" y="954.53" width="3.00" height="3.00" fill="#000" fill-opacity="0.10"/>
<rect x="1099.41" y="957.54" width="3.00" height="6.01" fill="#000" fill-opacity="0.35"/>
<rect x="1099.41" y="963.55" width="3.00" height="3.00" fill="#000" fill-opacity="0.21"/>
<rect x="1219.60" y="47.12" width="3.00" height="18.03" fill="#000" fill-opacity="0.18"/>
<rect x="1219.60" y="945.52" width="3.00" height="3.00" fill="#000" fill-opacity="0.08"/>
<rect x="1219.60" y="948.53" width="3.00" height="15.02" fill="#000" fill-opacity="0.18"/>
<rect x="1219.60" y="963.55" width="3.00" height="3.00" fill="#000" fill-opacity="0.11"/>
<rect x="1222.60" y="47.12" width="3.00" height="18.03" fill="#000" fill-opacity="1.00"/>
<rect x="1222.60" y="945.52" width="3.00" height="3.00" fill="#000" fill-opacity="0.45"/>
<rect x="1222.60" y="948.53" width="3.00" height="15.02" fill="#000" fill-opacity="1.00"/>
<rect x="1222.60" y="963.55" width="3.00" height="3.00" fill="#000" fill-opacity="0.60"/>
<rect x="1225.61" y="47.12" width="3.00" height="18.03" fill="#000" fill-opacity="0.05"/>
<rect x="1225.61" y="945.52" width="3.00" height="3.00" fill="#000" fill-opacity="0.02"/>
<rect x="1225.61" y="948.53" width="3.00" height="15.02" fill="#000" fill-opacity="0.05"/>
<rect x="1225.61" y="963.55" width="3.00" height="3.00" fill="#000" fill-opacity="0.03"/>
<rect x="1345.80" y="47.12" width="3.00" height="9.01" fill="#000" fill-opacity="0.48"/>
<rect x="1345.80" y="56.13" width="3.00" height="3.00" fill="#000" fill-opacity="0.07"/>
<rect x="1345.80" y="954.53" width="3.00" height="3.00" fill="#000" fill-opacity="0.15"/>
<rect x="1345.80" y="957.54" width="3.00" height="6.01" fill="#000" fill-opacity="0.48"/>
<rect x="1345.80" y="963.55" width="3.00" height="3.00" fill="#000" fill-opacity="0.29"/>
<rect x="1348.81" y="47.12" width="3.00" height="9.01" fill="#000" fill-opacity="0.75"/>
<rect x="1348.81" y="56.13" width="3.00" height="3.00" fill="#000" fill-opacity="0.11"/>
<rect x="1348.81" y="954.53" width="3.00" height="3.00" fill="#000" fill-opacity="0.22"/>
<rect x="1348.81" y="957.54" width="3.00" height="6.01" fill="#000" fill-opacity="0.75"/>
<rect x="1348.81" y="963.55" width="3.00" height="3.00" fill="#000" fill-opacity="0.45"/>
<rect x="225.01" y="870.40" width="9.01" height="3.00" fill="#000" fill-opacity="0.54"/>
<rect x="234.02" y="870.40" width="3.00" height="3.00" fill="#000" fill-opacity="0.06"/>
<rect x="1462.99" y="870.40" width="9.01" height="3.00" fill="#000" fill-opacity="0.54"/>
<rect x="222.01" y="870.40" width="3.00" height="3.00" fill="#000" fill-opacity="0.30"/>
<rect x="1472.00" y="870.40" width="3.00" height="3.00" fill="#000" fill-opacity="0.27"/>
<rect x="225.01" y="873.41" width="9.01" height="3.00" fill="#000" fill-opacity="0.73"/>
<rect x="234.02" y="873.41" width="3.00" height="3.00" fill="#000" fill-opacity="0.09"/>
<rect x="1462.99" y="873.41" width="9.01" height="3.00" fill="#000" fill-opacity="0.73"/>
<rect x="222.01" y="873.41" width="3.00" height="3.00" fill="#000" fill-opacity="0.40"/>
<rect x="1472.00" y="873.41" width="3.00" height="3.00" fill="#000" fill-opacity="0.37"/>
<rect x="225.01" y="777.26" width="15.02" height="3.00" fill="#000" fill-opacity="0.16"/>
<rect x="240.03" y="777.26" width="3.00" height="3.00" fill="#000" fill-opacity="0.03"/>
<rect x="1456.98" y="777.26" width="15.02" height="3.00" fill="#000" fill-opacity="0.16"/>
<rect x="1453.97" y="777.26" width="3.00" height="3.00" fill="#000" fill-opacity="0.03"/>
<rect x="222.01" y="777.26" width="3.00" height="3.00" fill="#000" fill-opacity="0.09"/>
<rect x="1472.00" y="777.26" width="3.00" height="3.00" fill="#000" fill-opacity="0.08"/>
<rect x="225.01" y="780.26" width="15.02" height="3.00" fill="#000" fill-opacity="1.00"/>
<rect x="240.03" y="780.26" width="3.00" height="3.00" fill="#000" fill-opacity="0.22"/>
<rect x="1456.98" y="780.26" width="15.02" height="3.00" fill="#000" fill-opacity="1.00"/>
<rect x="1453.97" y="780.26" width="3.00" height="3.00" fill="#000" fill-opacity="0.22"/>
<rect x="222.01" y="780.26" width="3.00" height="3.00" fill="#000" fill-opacity="0.55"/>
<rect x="1472.00" y="780.26" width="3.00" height="3.00" fill="#000" fill-opacity="0.50"/>
<rect x="225.01" y="783.27" width="15.02" height="3.00" fill="#000" fill-opacity="0.11"/>
<rect x="240.03" y="783.27" width="3.00" height="3.00" fill="#000" fill-opacity="0.02"/>
<rect x="1456.98" y="783.27" width="15.02" height="3.00" fill="#000" fill-opacity="0.11"/>
<rect x="1453.97" y="783.27" width="3.00" height="3.00" fill="#000" fill-opacity="0.02"/>
<rect x="222.01" y="783.27" width="3.00" height="3.00" fill="#000" fill-opacity="0.06"/>
<rect x="1472.00" y="783.27" width="3.00" height="3.00" fill="#000" fill-opacity="0.06"/>
<rect x="225.01" y="687.12" width="9.01" height="3.00" fill="#000" fill-opacity="0.78"/>
<rect x="234.02" y="687.12" width="3.00" height="3.00" fill="#000" fill-opacity="0.09"/>
<rect x="1462.99" y="687.12" width="9.01" height="3.00" fill="#000" fill-opacity="0.78"/>
<rect x="222.01" y="687.12" width="3.00" height="3.00" fill="#000" fill-opacity="0.43"/>
<rect x="1472.00" y="687.12" width="3.00" height="3.00" fill="#000" fill-opacity="0.39"/>
<rect x="225.01" y="690.12" width="9.01" height="3.00" fill="#000" fill-opacity="0.49"/>
<rect x="234.02" y="690.12" width="3.00" height="3.00" fill="#000" fill-opacity="0.06"/>
<rect x="1462.99" y="690.12" width="9.01" height="3.00" fill="#000" fill-opacity="0.49"/>
<rect x="222.01" y="690.12" width="3.00" height="3.00" fill="#000" fill-opacity="0.27"/>
<rect x="1472.00" y="690.12" width="3.00" height="3.00" fill="#000" fill-opacity="0.25"/>
<rect x="225.01" y="593.97" width="15.02" height="3.00" fill="#000" fill-opacity="0.39"/>
<rect x="240.03" y="593.97" width="3.00" height="3.00" fill="#000" fill-opacity="0.09"/>
<rect x="1456.98" y="593.97" width="15.02" height="3.00" fill="#000" fill-opacity="0.39"/>
<rect x="1453.97" y="593.97" width="3.00" height="3.00" fill="#000" fill-opacity="0.09"/>
<rect x="222.01" y="593.97" width="3.00" height="3.00" fill="#000" fill-opacity="0.22"/>
<rect x="1472.00" y="593.97" width="3.00" height="3.00" fill="#000" fill-opacity="0.20"/>
<rect x="225.01" y="596.98" width="15.02" height="3.00" fill="#000" fill-opacity="0.88"/>
<rect x="240.03" y="596.98" width="3.00" height="3.00" fill="#000" fill-opacity="0.19"/>
<rect x="1456.98" y="596.98" width="15.02" height="3.00" fill="#000" fill-opacity="0.88"/>
<rect x="1453.97" y="596.98" width="3.00" height="3.00" fill="#000" fill-opacity="0.19"/>
<rect x="222.01" y="596.98" width="3.00" height="3.00" fill="#000" fill-opacity="0.48"/>
<rect x="1472.00" y="596.98" width="3.00" height="3.00" fill="#000" fill-opacity="0.44"/>
<rect x="225.01" y="503.83" width="9.01" height="3.00" fill="#000" fill-opacity="1.00"/>
<rect x="234.02" y="503.83" width="3.00" height="3.00" fill="#000" fill-opacity="0.12"/>
<rect x="1462.99" y="503.83" width="9.01" height="3.00" fill="#000" fill-opacity="1.00"/>
<rect x="222.01" y="503.83" width="3.00" height="3.00" fill="#000" fill-opacity="0.55"/>
<rect x="1472.00" y="503.83" width="3.00" height="3.00" fill="#000" fill-opacity="0.50"/>
<rect x="225.01" y="506.83" width="9.01" height="3.00" fill="#000" fill-opacity="0.26"/>
<rect x="234.02" y="506.83" width="3.00" height="3.00" fill="#000" fill-opacity="0.03"/>
<rect x="1462.99" y="506.83" width="9.01" height="3.00" fill="#000" fill-opacity="0.26"/>
<rect x="222.01" y="506.83" width="3.00" height="3.00" fill="#000" fill-opacity="0.14"/>
<rect x="1472.00" y="506.83" width="3.00" height="3.00" fill="#000" fill-opacity="0.13"/>
<rect x="225.01" y="410.68" width="15.02" height="3.00" fill="#000" fill-opacity="0.63"/>
<rect x="240.03" y="410.68" width="3.00" height="3.00" fill="#000" fill-opacity="0.14"/>
<rect x="1456.98" y="410.68" width="15.02" height="3.00" fill="#000" fill-opacity="0.63"/>
<rect x="1453.97" y="410.68" width="3.00" height="3.00" fill="#000" fill-opacity="0.14"/>
<rect x="222.01" y="410.68" width="3.00" height="3.00" fill="#000" fill-opacity="0.35"/>
<rect x="1472.00" y="410.68" width="3.00" height="3.00" fill="#000" fill-opacity="0.32"/>
<rect x="225.01" y="413.69" width="15.02" height="3.00" fill="#000" fill-opacity="0.64"/>
<rect x="240.03" y="413.69" width="3.00" height="3.00" fill="#000" fill-opacity="0.14"/>
<rect x="1456.98" y="413.69" width="15.02" height="3.00" fill="#000" fill-opacity="0.64"/>
<rect x="1453.97" y="413.69" width="3.00" height="3.00" fill="#000" fill-opacity="0.14"/>
<rect x="222.01" y="413.69" width="3.00" height="3.00" fill="#000" fill-opacity="0.35"/>
<rect x="1472.00" y="413.69" width="3.00" height="3.00" fill="#000" fill-opacity="0.32"/>
<rect x="225.01" y="317.54" width="9.01" height="3.00" fill="#000" fill-opacity="0.25"/>
<rect x="234.02" y="317.54" width="3.00" height="3.00" fill="#000" fill-opacity="0.03"/>
<rect x="1462.99" y="317.54" width="9.01" height="3.00" fill="#000" fill-opacity="0.25"/>
<rect x="222.01" y="317.54" width="3.00" height="3.00" fill="#000" fill-opacity="0.14"/>
<rect x="1472.00" y="317.54" width="3.00" height="3.00" fill="#000" fill-opacity="0.12"/>
<rect x="225.01" y="320.54" width="9.01" height="3.00" fill="#000" fill-opacity="1.00"/>
<rect x="234.02" y="320.54" width="3.00" height="3.00" fill="#000" fill-opacity="0.12"/>
<rect x="1462.99" y="320.54" width="9.01" height="3.00" fill="#000" fill-opacity="1.00"/>
<rect x="222.01" y="320.54" width="3.00" height="3.00" fill="#000" fill-opacity="0.55"/>
<rect x="1472.00" y="320.54" width="3.00" height="3.00" fill="#000" fill-opacity="0.50"/>
<rect x="225.01" y="227.40" width="15.02" height="3.00" fill="#000" fill-opacity="0.87"/>
<rect x="240.03" y="227.40" width="3.00" height="3.00" fill="#000" fill-opacity="0.19"/>
<rect x="1456.98" y="227.40" width="15.02" height="3.00" fill="#000" fill-opacity="0.87"/>
<rect x="1453.97" y="227.40" width="3.00" height="3.00" fill="#000" fill-opacity="0.19"/>
<rect x="222.01" y="227.40" width="3.00" height="3.00" fill="#000" fill-opacity="0.48"/>
<rect x="1472.00" y="227.40" width="3.00" height="3.00" fill="#000" fill-opacity="0.43"/>
<rect x="225.01" y="230.40" width="15.02" height="3.00" fill="#000" fill-opacity="0.40"/>
<rect x="240.03" y="230.40" width="3.00" height="3.00" fill="#000" fill-opacity="0.09"/>
<rect x="1456.98" y="230.40" width="15.02" height="3.00" fill="#000" fill-opacity="0.40"/>
<rect x="1453.97" y="230.40" width="3.00" height="3.00" fill="#000" fill-opacity="0.09"/>
<rect x="222.01" y="230.40" width="3.00" height="3.00" fill="#000" fill-opacity="0.22"/>
<rect x="1472.00" y="230.40" width="3.00" height="3.00" fill="#000" fill-opacity="0.20"/>
<rect x="225.01" y="134.25" width="9.01" height="3.00" fill="#000" fill-opacity="0.49"/>
<rect x="234.02" y="134.25" width="3.00" height="3.00" fill="#000" fill-opacity="0.06"/>
<rect x="1462.99" y="134.25" width="9.01" height="3.00" fill="#000" fill-opacity="0.49"/>
<rect x="222.01" y="134.25" width="3.00" height="3.00" fill="#000" fill-opacity="0.27"/>
<rect x="1472.00" y="134.25" width="3.00" height="3.00" fill="#000" fill-opacity="0.24"/>
<rect x="225.01" y="137.26" width="9.01" height="3.00" fill="#000" fill-opacity="0.78"/>
<rect x="234.02" y="137.26" width="3.00" height="3.00" fill="#000" fill-opacity="0.09"/>
<rect x="1462.99" y="137.26" width="9.01" height="3.00" fill="#000" fill-opacity="0.78"/>
<rect x="222.01" y="137.26" width="3.00" height="3.00" fill="#000" fill-opacity="0.43"/>
<rect x="1472.00" y="137.26" width="3.00" height="3.00" fill="#000" fill-opacity="0.39"/>
<rect x="219.00" y="44.11" width="3.00" height="925.45" fill="#4d4d4d" fill-opacity="1"/>
<rect x="222.01" y="47.12" width="3.00" height="916.43" fill="#000" fill-opacity="0.5"/>
<rect x="1472.00" y="47.12" width="3.00" height="916.43" fill="#000" fill-opacity="0.75"/>
<rect x="1475.01" y="44.11" width="3.00" height="925.45" fill="#808080" fill-opacity="1"/>
<rect x="222.01" y="44.11" width="1253.00" height="3.00" fill="#000" fill-opacity="1"/>
<rect x="225.01" y="47.12" width="1246.99" height="3.00" fill="#000" fill-opacity="0.16"/>
<rect x="222.01" y="963.55" width="1253.00" height="3.00" fill="#000" fill-opacity="0.58"/>
<rect x="219.00" y="966.55" width="1256.01" height="3.00" fill="#5a5a5a" fill-opacity="1"/>
</g>
</g>
</svg>
</body></html>
